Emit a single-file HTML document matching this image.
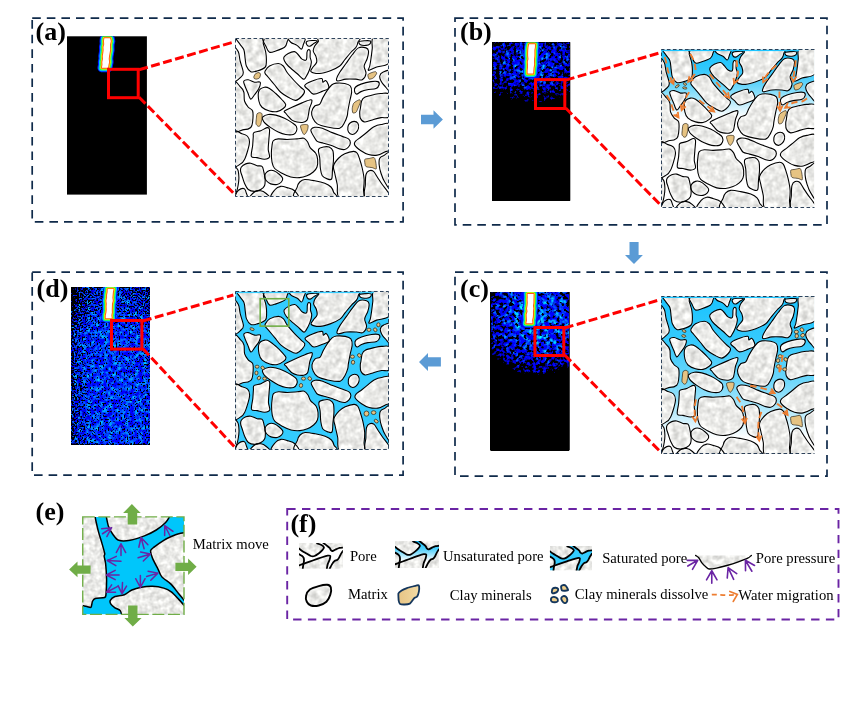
<!DOCTYPE html>
<html lang="en">
<head>
<meta charset="utf-8">
<title>Water migration in pore structure</title>
<style>
html,body{margin:0;padding:0;background:#fff;}
body{width:864px;height:704px;overflow:hidden;font-family:"Liberation Serif",serif;}
svg{display:block;}
</style>
</head>
<body>
<svg width="864" height="704" viewBox="0 0 864 704">
<rect x="0" y="0" width="864" height="704" fill="#fff"/>
<defs>
<filter id="tex" x="-5%" y="-5%" width="110%" height="110%" color-interpolation-filters="sRGB">
  <feTurbulence type="fractalNoise" baseFrequency="0.17" numOctaves="2" seed="4" result="n"/>
  <feColorMatrix in="n" type="matrix" values="0.34 0 0 0 0.745  0.34 0 0 0 0.745  0.34 0 0 0 0.735  0 0 0 0 1" result="g"/>
  <feMorphology in="SourceAlpha" operator="erode" radius="0.5" result="e"/>
  <feGaussianBlur in="e" stdDeviation="0.8" result="eb"/>
  <feComposite in="g" in2="eb" operator="in"/>
</filter>
<filter id="tex0" x="-5%" y="-5%" width="110%" height="110%" color-interpolation-filters="sRGB">
  <feTurbulence type="fractalNoise" baseFrequency="0.2" numOctaves="2" seed="8" result="n"/>
  <feColorMatrix in="n" type="matrix" values="0.34 0 0 0 0.75  0.34 0 0 0 0.75  0.34 0 0 0 0.74  0 0 0 0 1" result="g"/>
  <feComposite in="g" in2="SourceGraphic" operator="in"/>
</filter>
<filter id="heat" x="0" y="0" width="100%" height="100%" color-interpolation-filters="sRGB">
  <feTurbulence type="fractalNoise" baseFrequency="0.3" numOctaves="2" seed="11" result="h"/>
  <feColorMatrix in="h" type="matrix" values="1 0 0 0 0  1 0 0 0 0  1 0 0 0 0  0 0 0 0 1" result="hg"/>
  <feComposite in="hg" in2="SourceGraphic" operator="arithmetic" k1="7.5" k2="0" k3="0" k4="-2.4" result="m"/>
  <feTurbulence type="fractalNoise" baseFrequency="0.2" numOctaves="2" seed="23" result="l"/>
  <feColorMatrix in="l" type="matrix" values="1 0 0 0 0  1 0 0 0 0  1 0 0 0 0  0 0 0 0 1" result="lg"/>
  <feComposite in="lg" in2="SourceGraphic" operator="arithmetic" k1="2.7" k2="0" k3="0" k4="-1.0" result="c0"/>
  <feColorMatrix in="c0" type="matrix" values="0 0 0 0 0  0 1 0 0 0  0 0 0 0 1  0 0 0 0 1" result="c"/>
  <feComponentTransfer in="m" result="m2"><feFuncG type="gamma" amplitude="1" exponent="1.5" offset="0"/><feFuncB type="gamma" amplitude="1" exponent="0.5" offset="0"/></feComponentTransfer>
  <feComposite in="c" in2="m2" operator="arithmetic" k1="1" k2="0" k3="0" k4="0"/>
</filter>
<filter id="heatd" x="0" y="0" width="100%" height="100%" color-interpolation-filters="sRGB">
  <feTurbulence type="fractalNoise" baseFrequency="0.62" numOctaves="1" seed="5" result="h"/>
  <feColorMatrix in="h" type="matrix" values="1 0 0 0 0  1 0 0 0 0  1 0 0 0 0  0 0 0 0 1" result="hg"/>
  <feComposite in="hg" in2="SourceGraphic" operator="arithmetic" k1="12" k2="0" k3="0" k4="-3.9" result="m"/>
  <feTurbulence type="fractalNoise" baseFrequency="0.23" numOctaves="2" seed="9" result="l"/>
  <feColorMatrix in="l" type="matrix" values="0 0 0 0 0  1.8 0 0 0 -0.67  0 0 0 0 1  0 0 0 0 1" result="c"/>
  <feComponentTransfer in="m" result="m2"><feFuncG type="gamma" amplitude="1" exponent="1.8" offset="0"/><feFuncB type="gamma" amplitude="1" exponent="0.6" offset="0"/></feComponentTransfer>
  <feComposite in="c" in2="m2" operator="arithmetic" k1="1" k2="0" k3="0" k4="0"/>
</filter>
<filter id="soft" x="-100%" y="-20%" width="300%" height="140%"><feGaussianBlur stdDeviation="0.35"/></filter>
<radialGradient id="densB" gradientUnits="userSpaceOnUse" cx="0" cy="0" r="1" gradientTransform="translate(533 62) scale(62 40)">
  <stop offset="0" stop-color="#e6e6e6"/><stop offset="0.3" stop-color="#d4d4d4"/><stop offset="0.55" stop-color="#bdbdbd"/><stop offset="0.75" stop-color="#a8a8a8"/><stop offset="0.9" stop-color="#949494"/><stop offset="1" stop-color="#808080"/><stop offset="1" stop-color="#000"/>
</radialGradient>
<radialGradient id="densC" gradientUnits="userSpaceOnUse" cx="0" cy="0" r="1" gradientTransform="translate(538 318) scale(60 57)">
  <stop offset="0" stop-color="#fafafa"/><stop offset="0.4" stop-color="#ebebeb"/><stop offset="0.6" stop-color="#d6d6d6"/><stop offset="0.76" stop-color="#bfbfbf"/><stop offset="0.9" stop-color="#a6a6a6"/><stop offset="1" stop-color="#858585"/><stop offset="1" stop-color="#000"/>
</radialGradient>
<linearGradient id="densDy" x1="0" y1="0" x2="0" y2="1">
  <stop offset="0" stop-color="#000" stop-opacity="0.22"/><stop offset="0.15" stop-color="#000" stop-opacity="0.14"/><stop offset="0.3" stop-color="#000" stop-opacity="0"/><stop offset="1" stop-color="#000" stop-opacity="0"/>
</linearGradient>
<linearGradient id="densD" x1="0" y1="0" x2="1" y2="0">
  <stop offset="0" stop-color="#a0a0a0"/><stop offset="0.08" stop-color="#c8c8c8"/><stop offset="0.3" stop-color="#f0f0f0"/><stop offset="0.6" stop-color="#f8f8f8"/><stop offset="0.92" stop-color="#e8e8e8"/><stop offset="1" stop-color="#d0d0d0"/>
</linearGradient>
<linearGradient id="gradB" x1="0" y1="0" x2="0" y2="1">
  <stop offset="0" stop-color="#18c4ff"/><stop offset="0.12" stop-color="#30c8fc"/><stop offset="0.22" stop-color="#62d4fb"/><stop offset="0.30" stop-color="#9ce4fb"/><stop offset="0.37" stop-color="#d4f2fd"/><stop offset="0.43" stop-color="#ffffff"/>
</linearGradient>
<linearGradient id="gradC" x1="0" y1="0" x2="0" y2="1">
  <stop offset="0" stop-color="#18c4ff"/><stop offset="0.3" stop-color="#38cafc"/><stop offset="0.52" stop-color="#6ad6fb"/><stop offset="0.68" stop-color="#a0e4fb"/><stop offset="0.8" stop-color="#d4f2fd"/><stop offset="0.9" stop-color="#ffffff"/>
</linearGradient>
<linearGradient id="gradU" x1="0" y1="0" x2="0" y2="1">
  <stop offset="0" stop-color="#18c4ff"/><stop offset="0.35" stop-color="#62d4fb"/><stop offset="0.7" stop-color="#ffffff"/>
</linearGradient>
<clipPath id="pclip"><rect x="0" y="0" width="152.90" height="157.40"/></clipPath>

<g id="gfill"><path d="M2.38 -1.50C-1.38 -0.46 3.21 2.67 4.25 4.75C5.29 6.83 7.69 8.50 8.62 11.00C9.56 13.50 9.46 17.04 9.88 19.75C10.29 22.46 10.19 25.06 11.12 27.25C12.06 29.44 13.73 32.04 15.50 32.88C17.27 33.71 19.35 32.98 21.75 32.25C24.15 31.52 28.31 30.17 29.88 28.50C31.44 26.83 31.02 24.75 31.12 22.25C31.23 19.75 31.02 16.42 30.50 13.50C29.98 10.58 28.62 7.25 28.00 4.75C27.38 2.25 31.02 -0.46 26.75 -1.50C22.48 -2.54 6.12 -2.54 2.38 -1.50Z"/><path d="M-2.00 10.38C-1.17 5.69 1.85 10.90 3.00 12.88C4.15 14.85 4.04 18.81 4.88 22.25C5.71 25.69 7.79 30.90 8.00 33.50C8.21 36.10 7.79 36.62 6.12 37.88C4.46 39.12 -0.65 45.58 -2.00 41.00C-3.35 36.42 -2.83 15.06 -2.00 10.38Z"/><path d="M28.62 -1.50C25.29 0.17 30.19 6.00 31.12 8.50C32.06 11.00 32.69 12.88 34.25 13.50C35.81 14.12 38.00 13.08 40.50 12.25C43.00 11.42 47.38 9.96 49.25 8.50C51.12 7.04 51.44 5.17 51.75 3.50C52.06 1.83 54.98 -0.67 51.12 -1.50C47.27 -2.33 31.96 -3.17 28.62 -1.50Z"/><path d="M53.62 -1.50C51.33 -0.67 54.15 2.15 55.50 3.50C56.85 4.85 59.98 5.48 61.75 6.62C63.52 7.77 65.08 10.48 66.12 10.38C67.17 10.27 67.48 7.98 68.00 6.00C68.52 4.02 71.65 -0.25 69.25 -1.50C66.85 -2.75 55.92 -2.33 53.62 -1.50Z"/><path d="M71.38 2.88C72.21 2.12 74.94 1.85 76.75 1.75C78.56 1.65 82.00 1.71 82.25 2.25C82.50 2.79 79.54 4.12 78.25 5.00C76.96 5.88 75.58 7.29 74.50 7.50C73.42 7.71 72.27 7.02 71.75 6.25C71.23 5.48 70.54 3.62 71.38 2.88Z"/><path d="M86.00 -1.50C79.50 -0.77 84.08 1.42 83.00 2.88C81.92 4.33 80.33 5.69 79.50 7.25C78.67 8.81 77.79 10.48 78.00 12.25C78.21 14.02 80.19 16.00 80.75 17.88C81.31 19.75 81.90 21.73 81.38 23.50C80.85 25.27 78.56 26.94 77.62 28.50C76.69 30.06 74.60 31.83 75.75 32.88C76.90 33.92 81.38 34.85 84.50 34.75C87.62 34.65 91.17 33.50 94.50 32.25C97.83 31.00 102.00 29.12 104.50 27.25C107.00 25.38 107.62 23.29 109.50 21.00C111.38 18.71 113.88 15.58 115.75 13.50C117.62 11.42 119.60 10.17 120.75 8.50C121.90 6.83 122.42 5.17 122.62 3.50C122.83 1.83 128.10 -0.67 122.00 -1.50C115.90 -2.33 92.50 -2.23 86.00 -1.50Z"/><path d="M48.62 18.50C49.25 17.25 51.23 15.69 53.00 14.75C54.77 13.81 57.58 12.67 59.25 12.88C60.92 13.08 61.75 14.75 63.00 16.00C64.25 17.25 65.40 19.54 66.75 20.38C68.10 21.21 70.29 22.15 71.12 21.00C71.96 19.85 71.44 15.17 71.75 13.50C72.06 11.83 72.48 11.21 73.00 11.00C73.52 10.79 74.56 11.00 74.88 12.25C75.19 13.50 74.67 16.62 74.88 18.50C75.08 20.38 76.23 21.42 76.12 23.50C76.02 25.58 75.19 28.50 74.25 31.00C73.31 33.50 71.54 36.94 70.50 38.50C69.46 40.06 69.46 41.00 68.00 40.38C66.54 39.75 64.25 36.94 61.75 34.75C59.25 32.56 55.08 29.33 53.00 27.25C50.92 25.17 49.98 23.71 49.25 22.25C48.52 20.79 48.00 19.75 48.62 18.50Z"/><path d="M29.88 32.25C30.60 31.00 32.06 28.50 34.25 27.25C36.44 26.00 40.71 24.75 43.00 24.75C45.29 24.75 46.54 25.79 48.00 27.25C49.46 28.71 49.88 31.00 51.75 33.50C53.62 36.00 56.96 39.75 59.25 42.25C61.54 44.75 63.83 46.83 65.50 48.50C67.17 50.17 69.04 50.79 69.25 52.25C69.46 53.71 68.21 55.69 66.75 57.25C65.29 58.81 62.79 61.42 60.50 61.62C58.21 61.83 55.50 59.85 53.00 58.50C50.50 57.15 47.79 55.58 45.50 53.50C43.21 51.42 41.33 48.50 39.25 46.00C37.17 43.50 34.56 40.38 33.00 38.50C31.44 36.62 30.40 35.79 29.88 34.75C29.35 33.71 29.15 33.50 29.88 32.25Z"/><path d="M8.62 42.25C9.25 41.42 11.23 40.79 13.00 41.00C14.77 41.21 17.27 43.08 19.25 43.50C21.23 43.92 24.15 42.46 24.88 43.50C25.60 44.54 24.56 47.67 23.62 49.75C22.69 51.83 20.60 54.23 19.25 56.00C17.90 57.77 16.65 60.79 15.50 60.38C14.35 59.96 13.42 55.90 12.38 53.50C11.33 51.10 9.88 47.88 9.25 46.00C8.62 44.12 8.00 43.08 8.62 42.25Z"/><path d="M23.62 52.25C24.56 49.96 27.48 48.92 29.25 48.50C31.02 48.08 32.38 48.71 34.25 49.75C36.12 50.79 38.42 52.88 40.50 54.75C42.58 56.62 45.08 59.12 46.75 61.00C48.42 62.88 50.29 64.54 50.50 66.00C50.71 67.46 49.46 68.60 48.00 69.75C46.54 70.90 44.04 72.46 41.75 72.88C39.46 73.29 36.75 72.98 34.25 72.25C31.75 71.52 28.52 70.17 26.75 68.50C24.98 66.83 24.15 64.96 23.62 62.25C23.10 59.54 22.69 54.54 23.62 52.25Z"/><path d="M69.50 46.62C70.12 45.17 74.19 43.40 77.00 42.25C79.81 41.10 84.60 39.54 86.38 39.75C88.15 39.96 86.94 43.17 87.62 43.50C88.31 43.83 89.60 41.38 90.50 41.75C91.40 42.12 92.54 44.42 93.00 45.75C93.46 47.08 94.25 48.60 93.25 49.75C92.25 50.90 89.50 51.69 87.00 52.62C84.50 53.56 80.54 55.65 78.25 55.38C75.96 55.10 74.71 52.46 73.25 51.00C71.79 49.54 68.88 48.08 69.50 46.62Z"/><path d="M49.25 72.25C50.29 71.25 53.83 69.85 56.75 68.50C59.67 67.15 63.62 65.38 66.75 64.12C69.88 62.88 73.88 61.10 75.50 61.00C77.12 60.90 76.71 62.04 76.50 63.50C76.29 64.96 74.83 67.50 74.25 69.75C73.67 72.00 73.42 75.06 73.00 77.00C72.58 78.94 72.58 80.29 71.75 81.38C70.92 82.46 69.67 83.19 68.00 83.50C66.33 83.81 63.62 83.60 61.75 83.25C59.88 82.90 58.21 82.31 56.75 81.38C55.29 80.44 54.04 78.77 53.00 77.62C51.96 76.48 51.12 75.40 50.50 74.50C49.88 73.60 48.21 73.25 49.25 72.25Z"/><path d="M96.38 46.25C97.83 45.04 98.56 44.62 100.75 44.38C102.94 44.12 107.10 44.27 109.50 44.75C111.90 45.23 113.98 45.79 115.12 47.25C116.27 48.71 116.48 51.00 116.38 53.50C116.27 56.00 115.12 59.12 114.50 62.25C113.88 65.38 113.04 69.79 112.62 72.25C112.21 74.71 112.52 75.17 112.00 77.00C111.48 78.83 110.75 81.17 109.50 83.25C108.25 85.33 107.42 88.67 104.50 89.50C101.58 90.33 95.75 88.98 92.00 88.25C88.25 87.52 84.40 86.58 82.00 85.12C79.60 83.67 78.56 81.48 77.62 79.50C76.69 77.52 76.06 75.29 76.38 73.25C76.69 71.21 78.15 68.56 79.50 67.25C80.85 65.94 83.17 66.73 84.50 65.38C85.83 64.02 86.25 61.42 87.50 59.12C88.75 56.83 90.52 53.77 92.00 51.62C93.48 49.48 94.92 47.46 96.38 46.25Z"/><path d="M-2.00 45.38C-0.75 38.58 3.73 47.15 5.50 48.50C7.27 49.85 8.00 51.21 8.62 53.50C9.25 55.79 8.52 59.75 9.25 62.25C9.98 64.75 11.65 66.83 13.00 68.50C14.35 70.17 16.65 69.83 17.38 72.25C18.10 74.67 17.69 80.25 17.38 83.00C17.06 85.75 16.96 87.44 15.50 88.75C14.04 90.06 11.54 90.79 8.62 90.88C5.71 90.96 -0.23 96.83 -2.00 89.25C-3.77 81.67 -3.25 52.17 -2.00 45.38Z"/><path d="M27.38 78.25C28.31 77.42 30.81 76.06 33.00 75.75C35.19 75.44 37.79 75.75 40.50 76.38C43.21 77.00 46.54 78.25 49.25 79.50C51.96 80.75 54.77 82.52 56.75 83.88C58.73 85.23 60.40 86.17 61.12 87.62C61.85 89.08 61.65 91.27 61.12 92.62C60.60 93.98 59.77 95.23 58.00 95.75C56.23 96.27 53.00 96.17 50.50 95.75C48.00 95.33 45.50 94.40 43.00 93.25C40.50 92.10 37.69 90.33 35.50 88.88C33.31 87.42 31.23 85.85 29.88 84.50C28.52 83.15 27.79 81.79 27.38 80.75C26.96 79.71 26.44 79.08 27.38 78.25Z"/><path d="M123.88 2.88C124.60 2.21 127.62 2.10 129.50 2.00C131.38 1.90 134.29 1.69 135.12 2.25C135.96 2.81 135.23 4.65 134.50 5.38C133.77 6.10 132.31 6.52 130.75 6.62C129.19 6.73 126.27 6.62 125.12 6.00C123.98 5.38 123.15 3.54 123.88 2.88Z"/><path d="M138.25 -1.50C135.23 0.38 137.42 6.21 137.00 9.75C136.58 13.29 136.17 16.83 135.75 19.75C135.33 22.67 134.92 25.27 134.50 27.25C134.08 29.23 132.21 31.42 133.25 31.62C134.29 31.83 137.10 29.96 140.75 28.50C144.40 27.04 152.73 27.88 155.12 22.88C157.52 17.88 157.94 2.56 155.12 -1.50C152.31 -5.56 141.27 -3.38 138.25 -1.50Z"/><path d="M123.25 9.12C125.54 7.98 129.08 8.60 130.75 9.12C132.42 9.65 133.04 10.48 133.25 12.25C133.46 14.02 132.73 17.25 132.00 19.75C131.27 22.25 129.08 24.75 128.88 27.25C128.67 29.75 131.06 32.46 130.75 34.75C130.44 37.04 128.67 40.06 127.00 41.00C125.33 41.94 123.46 40.48 120.75 40.38C118.04 40.27 113.77 40.06 110.75 40.38C107.73 40.69 104.19 42.35 102.62 42.25C101.06 42.15 101.06 41.21 101.38 39.75C101.69 38.29 102.94 36.00 104.50 33.50C106.06 31.00 108.67 27.67 110.75 24.75C112.83 21.83 114.92 18.60 117.00 16.00C119.08 13.40 120.96 10.27 123.25 9.12Z"/><path d="M155.12 32.88C153.88 29.85 149.40 32.77 147.62 33.50C145.85 34.23 144.81 35.79 144.50 37.25C144.19 38.71 144.92 40.58 145.75 42.25C146.58 43.92 147.94 45.69 149.50 47.25C151.06 48.81 154.19 54.02 155.12 51.62C156.06 49.23 156.38 35.90 155.12 32.88Z"/><path d="M120.12 48.50C121.21 47.35 123.15 46.31 125.75 45.38C128.35 44.44 132.94 43.29 135.75 42.88C138.56 42.46 141.27 42.35 142.62 42.88C143.98 43.40 144.19 44.85 143.88 46.00C143.56 47.15 142.73 48.92 140.75 49.75C138.77 50.58 134.50 50.48 132.00 51.00C129.50 51.52 127.52 52.15 125.75 52.88C123.98 53.60 122.46 55.48 121.38 55.38C120.29 55.27 119.46 53.40 119.25 52.25C119.04 51.10 119.04 49.65 120.12 48.50Z"/><path d="M155.12 56.62C153.56 52.92 148.56 54.85 145.75 54.75C142.94 54.65 140.96 55.38 138.25 56.00C135.54 56.62 131.48 57.46 129.50 58.50C127.52 59.54 127.10 60.38 126.38 62.25C125.65 64.12 125.44 67.92 125.12 69.75C124.81 71.58 124.50 71.62 124.50 73.25C124.50 74.88 124.29 77.83 125.12 79.50C125.96 81.17 127.31 83.04 129.50 83.25C131.69 83.46 135.54 81.48 138.25 80.75C140.96 80.02 142.94 79.50 145.75 78.88C148.56 78.25 153.56 80.71 155.12 77.00C156.69 73.29 156.69 60.33 155.12 56.62Z"/><path d="M-2.00 94.25C-0.54 89.12 4.38 94.46 6.75 95.00C9.12 95.54 11.00 96.12 12.25 97.50C13.50 98.88 14.23 100.83 14.25 103.25C14.27 105.67 13.21 109.08 12.38 112.00C11.54 114.92 10.40 118.56 9.25 120.75C8.10 122.94 7.38 124.29 5.50 125.12C3.62 125.96 -0.75 130.90 -2.00 125.75C-3.25 120.60 -3.46 99.38 -2.00 94.25Z"/><path d="M18.62 93.88C19.88 92.83 23.31 92.83 25.50 92.00C27.69 91.17 30.29 89.08 31.75 88.88C33.21 88.67 33.94 88.77 34.25 90.75C34.56 92.73 33.83 97.42 33.62 100.75C33.42 104.08 32.90 107.83 33.00 110.75C33.10 113.67 34.88 116.62 34.25 118.25C33.62 119.88 31.33 120.40 29.25 120.50C27.17 120.60 23.94 119.35 21.75 118.88C19.56 118.40 16.85 119.60 16.12 117.62C15.40 115.65 17.06 110.23 17.38 107.00C17.69 103.77 17.79 100.44 18.00 98.25C18.21 96.06 17.38 94.92 18.62 93.88Z"/><path d="M38.00 102.00C39.04 100.85 40.71 100.33 43.00 100.12C45.29 99.92 48.62 100.75 51.75 100.75C54.88 100.75 58.94 100.33 61.75 100.12C64.56 99.92 66.85 98.98 68.62 99.50C70.40 100.02 71.33 101.69 72.38 103.25C73.42 104.81 73.52 107.00 74.88 108.88C76.23 110.75 79.25 112.52 80.50 114.50C81.75 116.48 82.17 118.46 82.38 120.75C82.58 123.04 82.48 126.17 81.75 128.25C81.02 130.33 79.67 131.79 78.00 133.25C76.33 134.71 74.04 136.06 71.75 137.00C69.46 137.94 66.96 138.67 64.25 138.88C61.54 139.08 58.42 138.98 55.50 138.25C52.58 137.52 49.46 135.96 46.75 134.50C44.04 133.04 40.92 131.38 39.25 129.50C37.58 127.62 37.27 125.75 36.75 123.25C36.23 120.75 36.12 117.21 36.12 114.50C36.12 111.79 36.44 109.08 36.75 107.00C37.06 104.92 36.96 103.15 38.00 102.00Z"/><path d="M75.75 90.75C76.27 89.85 77.62 88.71 79.50 88.50C81.38 88.29 84.08 88.60 87.00 89.50C89.92 90.40 93.67 92.52 97.00 93.88C100.33 95.23 104.29 96.58 107.00 97.62C109.71 98.67 111.90 99.08 113.25 100.12C114.60 101.17 115.12 102.52 115.12 103.88C115.12 105.23 114.19 107.10 113.25 108.25C112.31 109.40 110.96 110.44 109.50 110.75C108.04 111.06 106.58 110.75 104.50 110.12C102.42 109.50 99.71 107.94 97.00 107.00C94.29 106.06 90.75 105.23 88.25 104.50C85.75 103.77 83.56 103.67 82.00 102.62C80.44 101.58 79.81 99.71 78.88 98.25C77.94 96.79 76.90 95.12 76.38 93.88C75.85 92.62 75.23 91.65 75.75 90.75Z"/><path d="M83.25 110.75C83.88 108.88 86.48 108.67 88.25 108.25C90.02 107.83 92.31 107.62 93.88 108.25C95.44 108.88 96.90 109.92 97.62 112.00C98.35 114.08 98.31 117.62 98.25 120.75C98.19 123.88 97.56 127.52 97.25 130.75C96.94 133.98 97.25 138.56 96.38 140.12C95.50 141.69 93.56 140.65 92.00 140.12C90.44 139.60 88.15 138.77 87.00 137.00C85.85 135.23 85.54 132.42 85.12 129.50C84.71 126.58 84.81 122.62 84.50 119.50C84.19 116.38 82.62 112.62 83.25 110.75Z"/><path d="M6.12 128.25C7.00 127.10 8.94 125.75 10.50 125.12C12.06 124.50 13.62 124.19 15.50 124.50C17.38 124.81 19.88 126.48 21.75 127.00C23.62 127.52 25.60 126.58 26.75 127.62C27.90 128.67 28.10 131.06 28.62 133.25C29.15 135.44 29.77 138.46 29.88 140.75C29.98 143.04 29.98 145.33 29.25 147.00C28.52 148.67 27.17 149.81 25.50 150.75C23.83 151.69 21.33 152.62 19.25 152.62C17.17 152.62 14.67 152.10 13.00 150.75C11.33 149.40 10.29 146.79 9.25 144.50C8.21 142.21 7.42 139.08 6.75 137.00C6.08 134.92 5.35 133.46 5.25 132.00C5.15 130.54 5.25 129.40 6.12 128.25Z"/><path d="M30.50 134.50C31.29 133.42 32.90 132.17 34.25 131.75C35.60 131.33 36.96 131.33 38.62 132.00C40.29 132.67 42.79 134.50 44.25 135.75C45.71 137.00 47.06 138.25 47.38 139.50C47.69 140.75 47.06 142.21 46.12 143.25C45.19 144.29 43.52 145.44 41.75 145.75C39.98 146.06 37.27 145.75 35.50 145.12C33.73 144.50 32.12 143.15 31.12 142.00C30.12 140.85 29.60 139.50 29.50 138.25C29.40 137.00 29.71 135.58 30.50 134.50Z"/><path d="M-2.00 129.50C-1.27 125.54 1.44 129.29 2.38 130.75C3.31 132.21 3.52 135.75 3.62 138.25C3.73 140.75 3.42 143.25 3.00 145.75C2.58 148.25 1.96 151.79 1.12 153.25C0.29 154.71 -1.48 158.46 -2.00 154.50C-2.52 150.54 -2.73 133.46 -2.00 129.50Z"/><path d="M0.50 159.50C-1.17 158.46 0.92 154.81 1.75 153.25C2.58 151.69 4.25 150.65 5.50 150.12C6.75 149.60 8.31 149.40 9.25 150.12C10.19 150.85 10.71 152.94 11.12 154.50C11.54 156.06 13.52 158.67 11.75 159.50C9.98 160.33 2.17 160.54 0.50 159.50Z"/><path d="M15.50 159.50C13.10 158.46 17.58 154.50 19.25 153.25C20.92 152.00 23.62 151.79 25.50 152.00C27.38 152.21 29.15 153.25 30.50 154.50C31.85 155.75 36.12 158.67 33.62 159.50C31.12 160.33 17.90 160.54 15.50 159.50Z"/><path d="M36.75 159.50C33.10 158.04 38.42 152.73 39.88 150.75C41.33 148.77 43.52 147.94 45.50 147.62C47.48 147.31 49.46 148.15 51.75 148.88C54.04 149.60 57.58 150.23 59.25 152.00C60.92 153.77 65.50 158.25 61.75 159.50C58.00 160.75 40.40 160.96 36.75 159.50Z"/><path d="M60.75 159.50C54.60 157.62 61.38 150.96 62.00 148.25C62.62 145.54 63.25 144.50 64.50 143.25C65.75 142.00 67.00 140.96 69.50 140.75C72.00 140.54 76.17 141.38 79.50 142.00C82.83 142.62 86.79 143.46 89.50 144.50C92.21 145.54 94.29 146.79 95.75 148.25C97.21 149.71 97.73 151.38 98.25 153.25C98.77 155.12 105.12 158.46 98.88 159.50C92.62 160.54 66.90 161.38 60.75 159.50Z"/><path d="M112.62 88.25C112.83 86.79 113.46 85.44 114.50 84.50C115.54 83.56 117.52 82.62 118.88 82.62C120.23 82.62 121.90 83.35 122.62 84.50C123.35 85.65 123.56 87.94 123.25 89.50C122.94 91.06 121.79 92.83 120.75 93.88C119.71 94.92 118.25 95.85 117.00 95.75C115.75 95.65 113.98 94.50 113.25 93.25C112.52 92.00 112.42 89.71 112.62 88.25Z"/><path d="M155.12 86.38C153.56 82.52 148.56 85.44 145.75 85.75C142.94 86.06 140.54 87.00 138.25 88.25C135.96 89.50 134.08 91.58 132.00 93.25C129.92 94.92 127.73 96.69 125.75 98.25C123.77 99.81 121.17 101.27 120.12 102.62C119.08 103.98 118.56 104.81 119.50 106.38C120.44 107.94 123.46 110.44 125.75 112.00C128.04 113.56 130.54 115.02 133.25 115.75C135.96 116.48 139.29 116.79 142.00 116.38C144.71 115.96 147.31 114.50 149.50 113.25C151.69 112.00 154.19 113.35 155.12 108.88C156.06 104.40 156.69 90.23 155.12 86.38Z"/><path d="M98.25 127.00C98.88 124.50 101.38 121.48 103.25 119.50C105.12 117.52 107.00 116.27 109.50 115.12C112.00 113.98 116.17 112.73 118.25 112.62C120.33 112.52 120.96 113.15 122.00 114.50C123.04 115.85 123.67 118.25 124.50 120.75C125.33 123.25 126.27 126.17 127.00 129.50C127.73 132.83 128.67 137.21 128.88 140.75C129.08 144.29 128.56 147.62 128.25 150.75C127.94 153.88 130.96 158.04 127.00 159.50C123.04 160.96 108.67 161.79 104.50 159.50C100.33 157.21 102.83 149.92 102.00 145.75C101.17 141.58 100.12 137.62 99.50 134.50C98.88 131.38 97.62 129.50 98.25 127.00Z"/><path d="M130.75 159.50C126.58 157.21 130.12 149.71 130.12 145.75C130.12 141.79 130.12 138.04 130.75 135.75C131.38 133.46 132.62 132.52 133.88 132.00C135.12 131.48 136.90 131.58 138.25 132.62C139.60 133.67 140.54 136.06 142.00 138.25C143.46 140.44 145.23 143.25 147.00 145.75C148.77 148.25 151.27 150.96 152.62 153.25C153.98 155.54 158.77 158.46 155.12 159.50C151.48 160.54 134.92 161.79 130.75 159.50Z"/><path d="M155.12 115.75C153.98 110.54 150.02 116.38 148.25 117.00C146.48 117.62 145.23 118.04 144.50 119.50C143.77 120.96 143.67 123.25 143.88 125.75C144.08 128.25 144.81 131.58 145.75 134.50C146.69 137.42 147.94 140.96 149.50 143.25C151.06 145.54 154.19 152.83 155.12 148.25C156.06 143.67 156.27 120.96 155.12 115.75Z"/></g>
</defs>
<rect x="32.20" y="18.10" width="370.90" height="203.80" fill="none" stroke="#0f2a4a" stroke-width="1.70" stroke-dasharray="8.6 6" />
<rect x="455.00" y="18.10" width="372.00" height="206.70" fill="none" stroke="#0f2a4a" stroke-width="1.70" stroke-dasharray="8.6 6" />
<rect x="455.00" y="272.10" width="372.00" height="204.00" fill="none" stroke="#0f2a4a" stroke-width="1.70" stroke-dasharray="8.6 6" />
<rect x="32.20" y="272.10" width="370.90" height="203.00" fill="none" stroke="#0f2a4a" stroke-width="1.70" stroke-dasharray="8.6 6" />
<rect x="287.20" y="509.00" width="551.30" height="110.50" fill="none" stroke="#6a24a4" stroke-width="1.90" stroke-dasharray="8.4 6.4" />
<g>
<clipPath id="hca"><rect x="67.00" y="36.30" width="79.90" height="158.30"/></clipPath>
<rect x="67.00" y="36.30" width="79.90" height="158.30" fill="#000"/>
<g clip-path="url(#hca)"><g filter="url(#soft)"><path d="M104.34 38.30L103.97 41.25L104.20 44.20L103.46 47.15L103.65 50.10L103.28 53.05L102.78 56.00L102.97 58.95L102.32 61.90L102.46 64.85L101.91 67.80L108.03 67.80L108.55 64.85L109.13 61.90L108.72 58.95L109.03 56.00L109.61 53.05L110.12 50.10L110.01 47.15L110.07 44.20L110.81 41.25L110.19 38.30Z" fill="none" stroke="#0018ff" stroke-width="9.0" stroke-linejoin="round"/><path d="M104.34 38.30L103.97 41.25L104.20 44.20L103.46 47.15L103.65 50.10L103.28 53.05L102.78 56.00L102.97 58.95L102.32 61.90L102.46 64.85L101.91 67.80L108.03 67.80L108.55 64.85L109.13 61.90L108.72 58.95L109.03 56.00L109.61 53.05L110.12 50.10L110.01 47.15L110.07 44.20L110.81 41.25L110.19 38.30Z" fill="none" stroke="#00c8ff" stroke-width="6.8" stroke-linejoin="round"/><path d="M104.34 38.30L103.97 41.25L104.20 44.20L103.46 47.15L103.65 50.10L103.28 53.05L102.78 56.00L102.97 58.95L102.32 61.90L102.46 64.85L101.91 67.80L108.03 67.80L108.55 64.85L109.13 61.90L108.72 58.95L109.03 56.00L109.61 53.05L110.12 50.10L110.01 47.15L110.07 44.20L110.81 41.25L110.19 38.30Z" fill="none" stroke="#20ff40" stroke-width="5.0" stroke-linejoin="round"/><path d="M104.34 38.30L103.97 41.25L104.20 44.20L103.46 47.15L103.65 50.10L103.28 53.05L102.78 56.00L102.97 58.95L102.32 61.90L102.46 64.85L101.91 67.80L108.03 67.80L108.55 64.85L109.13 61.90L108.72 58.95L109.03 56.00L109.61 53.05L110.12 50.10L110.01 47.15L110.07 44.20L110.81 41.25L110.19 38.30Z" fill="none" stroke="#fff000" stroke-width="3.3" stroke-linejoin="round"/><path d="M104.34 38.30L103.97 41.25L104.20 44.20L103.46 47.15L103.65 50.10L103.28 53.05L102.78 56.00L102.97 58.95L102.32 61.90L102.46 64.85L101.91 67.80L108.03 67.80L108.55 64.85L109.13 61.90L108.72 58.95L109.03 56.00L109.61 53.05L110.12 50.10L110.01 47.15L110.07 44.20L110.81 41.25L110.19 38.30Z" fill="none" stroke="#ff5a10" stroke-width="1.9" stroke-linejoin="round"/><path d="M104.34 38.30L103.97 41.25L104.20 44.20L103.46 47.15L103.65 50.10L103.28 53.05L102.78 56.00L102.97 58.95L102.32 61.90L102.46 64.85L101.91 67.80L108.03 67.80L108.55 64.85L109.13 61.90L108.72 58.95L109.03 56.00L109.61 53.05L110.12 50.10L110.01 47.15L110.07 44.20L110.81 41.25L110.19 38.30Z" fill="#fff"/></g></g>
<rect x="108.50" y="69.30" width="29.70" height="28.40" fill="none" stroke="#ff0000" stroke-width="3"/>
</g>
<g>
<clipPath id="hcb"><rect x="492.30" y="42.20" width="78.00" height="158.50"/></clipPath>
<rect x="492.30" y="42.20" width="78.00" height="158.50" fill="#000"/>
<rect x="492.30" y="42.20" width="78.00" height="158.50" fill="url(#densB)" filter="url(#heat)"/>
<g clip-path="url(#hcb)"><g filter="url(#soft)"><path d="M529.12 44.20L528.49 47.14L528.24 50.08L528.10 53.02L528.15 55.96L528.48 58.90L527.79 61.84L528.03 64.78L527.97 67.72L527.61 70.66L527.64 73.60L533.21 73.60L533.32 70.66L533.58 67.72L534.12 64.78L534.01 61.84L534.03 58.90L534.40 55.96L534.40 53.02L534.38 50.08L534.94 47.14L534.98 44.20Z" fill="none" stroke="#0018ff" stroke-width="9.0" stroke-linejoin="round"/><path d="M529.12 44.20L528.49 47.14L528.24 50.08L528.10 53.02L528.15 55.96L528.48 58.90L527.79 61.84L528.03 64.78L527.97 67.72L527.61 70.66L527.64 73.60L533.21 73.60L533.32 70.66L533.58 67.72L534.12 64.78L534.01 61.84L534.03 58.90L534.40 55.96L534.40 53.02L534.38 50.08L534.94 47.14L534.98 44.20Z" fill="none" stroke="#00c8ff" stroke-width="6.8" stroke-linejoin="round"/><path d="M529.12 44.20L528.49 47.14L528.24 50.08L528.10 53.02L528.15 55.96L528.48 58.90L527.79 61.84L528.03 64.78L527.97 67.72L527.61 70.66L527.64 73.60L533.21 73.60L533.32 70.66L533.58 67.72L534.12 64.78L534.01 61.84L534.03 58.90L534.40 55.96L534.40 53.02L534.38 50.08L534.94 47.14L534.98 44.20Z" fill="none" stroke="#20ff40" stroke-width="5.0" stroke-linejoin="round"/><path d="M529.12 44.20L528.49 47.14L528.24 50.08L528.10 53.02L528.15 55.96L528.48 58.90L527.79 61.84L528.03 64.78L527.97 67.72L527.61 70.66L527.64 73.60L533.21 73.60L533.32 70.66L533.58 67.72L534.12 64.78L534.01 61.84L534.03 58.90L534.40 55.96L534.40 53.02L534.38 50.08L534.94 47.14L534.98 44.20Z" fill="none" stroke="#fff000" stroke-width="3.3" stroke-linejoin="round"/><path d="M529.12 44.20L528.49 47.14L528.24 50.08L528.10 53.02L528.15 55.96L528.48 58.90L527.79 61.84L528.03 64.78L527.97 67.72L527.61 70.66L527.64 73.60L533.21 73.60L533.32 70.66L533.58 67.72L534.12 64.78L534.01 61.84L534.03 58.90L534.40 55.96L534.40 53.02L534.38 50.08L534.94 47.14L534.98 44.20Z" fill="none" stroke="#ff5a10" stroke-width="1.9" stroke-linejoin="round"/><path d="M529.12 44.20L528.49 47.14L528.24 50.08L528.10 53.02L528.15 55.96L528.48 58.90L527.79 61.84L528.03 64.78L527.97 67.72L527.61 70.66L527.64 73.60L533.21 73.60L533.32 70.66L533.58 67.72L534.12 64.78L534.01 61.84L534.03 58.90L534.40 55.96L534.40 53.02L534.38 50.08L534.94 47.14L534.98 44.20Z" fill="#fff"/></g></g>
<rect x="535.50" y="79.60" width="29.30" height="28.90" fill="none" stroke="#ff0000" stroke-width="3"/>
</g>
<g>
<clipPath id="hcc"><rect x="490.40" y="292.00" width="79.00" height="158.60"/></clipPath>
<rect x="490.40" y="292.00" width="79.00" height="158.60" fill="#000"/>
<rect x="490.40" y="292.00" width="79.00" height="158.60" fill="url(#densC)" filter="url(#heat)"/>
<g clip-path="url(#hcc)"><g filter="url(#soft)"><path d="M527.57 294.00L527.75 296.92L527.58 299.84L527.78 302.76L527.53 305.68L527.01 308.60L527.51 311.52L526.62 314.44L526.77 317.36L526.95 320.28L526.29 323.20L532.39 323.20L532.11 320.28L532.79 317.36L533.00 314.44L532.95 311.52L533.34 308.60L532.95 305.68L533.42 302.76L533.44 299.84L533.55 296.92L533.56 294.00Z" fill="none" stroke="#0018ff" stroke-width="9.0" stroke-linejoin="round"/><path d="M527.57 294.00L527.75 296.92L527.58 299.84L527.78 302.76L527.53 305.68L527.01 308.60L527.51 311.52L526.62 314.44L526.77 317.36L526.95 320.28L526.29 323.20L532.39 323.20L532.11 320.28L532.79 317.36L533.00 314.44L532.95 311.52L533.34 308.60L532.95 305.68L533.42 302.76L533.44 299.84L533.55 296.92L533.56 294.00Z" fill="none" stroke="#00c8ff" stroke-width="6.8" stroke-linejoin="round"/><path d="M527.57 294.00L527.75 296.92L527.58 299.84L527.78 302.76L527.53 305.68L527.01 308.60L527.51 311.52L526.62 314.44L526.77 317.36L526.95 320.28L526.29 323.20L532.39 323.20L532.11 320.28L532.79 317.36L533.00 314.44L532.95 311.52L533.34 308.60L532.95 305.68L533.42 302.76L533.44 299.84L533.55 296.92L533.56 294.00Z" fill="none" stroke="#20ff40" stroke-width="5.0" stroke-linejoin="round"/><path d="M527.57 294.00L527.75 296.92L527.58 299.84L527.78 302.76L527.53 305.68L527.01 308.60L527.51 311.52L526.62 314.44L526.77 317.36L526.95 320.28L526.29 323.20L532.39 323.20L532.11 320.28L532.79 317.36L533.00 314.44L532.95 311.52L533.34 308.60L532.95 305.68L533.42 302.76L533.44 299.84L533.55 296.92L533.56 294.00Z" fill="none" stroke="#fff000" stroke-width="3.3" stroke-linejoin="round"/><path d="M527.57 294.00L527.75 296.92L527.58 299.84L527.78 302.76L527.53 305.68L527.01 308.60L527.51 311.52L526.62 314.44L526.77 317.36L526.95 320.28L526.29 323.20L532.39 323.20L532.11 320.28L532.79 317.36L533.00 314.44L532.95 311.52L533.34 308.60L532.95 305.68L533.42 302.76L533.44 299.84L533.55 296.92L533.56 294.00Z" fill="none" stroke="#ff5a10" stroke-width="1.9" stroke-linejoin="round"/><path d="M527.57 294.00L527.75 296.92L527.58 299.84L527.78 302.76L527.53 305.68L527.01 308.60L527.51 311.52L526.62 314.44L526.77 317.36L526.95 320.28L526.29 323.20L532.39 323.20L532.11 320.28L532.79 317.36L533.00 314.44L532.95 311.52L533.34 308.60L532.95 305.68L533.42 302.76L533.44 299.84L533.55 296.92L533.56 294.00Z" fill="#fff"/></g></g>
<rect x="534.90" y="327.50" width="28.90" height="28.00" fill="none" stroke="#ff0000" stroke-width="3"/>
</g>
<g>
<clipPath id="hcd"><rect x="71.00" y="287.10" width="79.00" height="157.60"/></clipPath>
<rect x="71.00" y="287.10" width="79.00" height="157.60" fill="#000"/>
<g filter="url(#heatd)"><rect x="71.00" y="287.10" width="79.00" height="157.60" fill="url(#densD)"/><rect x="71.00" y="287.10" width="79.00" height="157.60" fill="url(#densDy)"/></g>
<g clip-path="url(#hcd)"><g filter="url(#soft)"><path d="M107.71 289.10L107.64 292.01L107.06 294.92L107.07 297.83L106.36 300.74L106.78 303.65L106.57 306.56L106.72 309.47L106.41 312.38L105.77 315.29L105.70 318.20L111.75 318.20L111.33 315.29L111.89 312.38L111.78 309.47L111.90 306.56L112.00 303.65L112.80 300.74L112.39 297.83L112.65 294.92L112.94 292.01L113.53 289.10Z" fill="none" stroke="#0018ff" stroke-width="9.0" stroke-linejoin="round"/><path d="M107.71 289.10L107.64 292.01L107.06 294.92L107.07 297.83L106.36 300.74L106.78 303.65L106.57 306.56L106.72 309.47L106.41 312.38L105.77 315.29L105.70 318.20L111.75 318.20L111.33 315.29L111.89 312.38L111.78 309.47L111.90 306.56L112.00 303.65L112.80 300.74L112.39 297.83L112.65 294.92L112.94 292.01L113.53 289.10Z" fill="none" stroke="#00c8ff" stroke-width="6.8" stroke-linejoin="round"/><path d="M107.71 289.10L107.64 292.01L107.06 294.92L107.07 297.83L106.36 300.74L106.78 303.65L106.57 306.56L106.72 309.47L106.41 312.38L105.77 315.29L105.70 318.20L111.75 318.20L111.33 315.29L111.89 312.38L111.78 309.47L111.90 306.56L112.00 303.65L112.80 300.74L112.39 297.83L112.65 294.92L112.94 292.01L113.53 289.10Z" fill="none" stroke="#20ff40" stroke-width="5.0" stroke-linejoin="round"/><path d="M107.71 289.10L107.64 292.01L107.06 294.92L107.07 297.83L106.36 300.74L106.78 303.65L106.57 306.56L106.72 309.47L106.41 312.38L105.77 315.29L105.70 318.20L111.75 318.20L111.33 315.29L111.89 312.38L111.78 309.47L111.90 306.56L112.00 303.65L112.80 300.74L112.39 297.83L112.65 294.92L112.94 292.01L113.53 289.10Z" fill="none" stroke="#fff000" stroke-width="3.3" stroke-linejoin="round"/><path d="M107.71 289.10L107.64 292.01L107.06 294.92L107.07 297.83L106.36 300.74L106.78 303.65L106.57 306.56L106.72 309.47L106.41 312.38L105.77 315.29L105.70 318.20L111.75 318.20L111.33 315.29L111.89 312.38L111.78 309.47L111.90 306.56L112.00 303.65L112.80 300.74L112.39 297.83L112.65 294.92L112.94 292.01L113.53 289.10Z" fill="none" stroke="#ff5a10" stroke-width="1.9" stroke-linejoin="round"/><path d="M107.71 289.10L107.64 292.01L107.06 294.92L107.07 297.83L106.36 300.74L106.78 303.65L106.57 306.56L106.72 309.47L106.41 312.38L105.77 315.29L105.70 318.20L111.75 318.20L111.33 315.29L111.89 312.38L111.78 309.47L111.90 306.56L112.00 303.65L112.80 300.74L112.39 297.83L112.65 294.92L112.94 292.01L113.53 289.10Z" fill="#fff"/></g></g>
<rect x="111.50" y="320.50" width="30.40" height="28.60" fill="none" stroke="#ff0000" stroke-width="3"/>
</g>
<line x1="139.10" y1="69.80" x2="233.25" y2="42.15" stroke="#ff0000" stroke-width="3" stroke-dasharray="9 3.5"/>
<line x1="139.10" y1="97.20" x2="234.65" y2="194.25" stroke="#ff0000" stroke-width="3" stroke-dasharray="9 3.5"/>
<line x1="565.70" y1="80.10" x2="659.25" y2="53.00" stroke="#ff0000" stroke-width="3" stroke-dasharray="9 3.5"/>
<line x1="565.70" y1="108.00" x2="660.65" y2="205.10" stroke="#ff0000" stroke-width="3" stroke-dasharray="9 3.5"/>
<line x1="564.70" y1="328.00" x2="659.25" y2="299.90" stroke="#ff0000" stroke-width="3" stroke-dasharray="9 3.5"/>
<line x1="564.70" y1="355.00" x2="660.65" y2="452.00" stroke="#ff0000" stroke-width="3" stroke-dasharray="9 3.5"/>
<line x1="142.80" y1="321.00" x2="233.35" y2="295.00" stroke="#ff0000" stroke-width="3" stroke-dasharray="9 3.5"/>
<line x1="142.80" y1="348.60" x2="234.75" y2="447.10" stroke="#ff0000" stroke-width="3" stroke-dasharray="9 3.5"/>
<g transform="translate(235.25 38.75)">
<g clip-path="url(#pclip)">
<rect x="0" y="0" width="152.90" height="157.40" fill="#fff"/>
<use href="#gfill" fill="#fff"/>
<g filter="url(#tex)"><use href="#gfill" fill="#000"/></g>
<use href="#gfill" fill="none" stroke="#000" stroke-width="1.1"/>
<g fill="#e6c383" stroke="#2a2114" stroke-width="0.7">
<path d="M18.62 37.88C18.80 37.29 19.92 35.23 20.50 34.75C21.08 34.27 23.07 33.68 23.62 33.75C24.18 33.82 25.18 34.75 25.25 35.38C25.32 36.00 24.73 38.54 24.25 39.12C23.77 39.71 21.74 40.30 21.12 40.38C20.51 40.45 19.29 40.04 19.00 39.75C18.71 39.46 18.45 38.46 18.62 37.88Z"/>
<path d="M21.75 75.12C22.11 74.47 23.67 73.88 24.25 73.88C24.83 73.88 26.49 74.32 26.75 75.12C27.01 75.93 26.68 79.44 26.50 80.75C26.32 82.06 25.66 85.57 25.25 86.38C24.84 87.18 23.52 87.77 23.00 87.62C22.48 87.48 20.97 86.07 20.75 85.12C20.53 84.18 21.01 80.67 21.12 79.50C21.24 78.33 21.39 75.78 21.75 75.12Z"/>
<path d="M132.62 36.00C132.84 35.27 134.88 34.49 135.75 34.12C136.62 33.76 139.47 32.80 140.12 32.88C140.78 32.95 141.59 34.02 141.38 34.75C141.16 35.48 139.12 38.47 138.25 39.12C137.38 39.78 134.53 40.74 133.88 40.38C133.22 40.01 132.41 36.73 132.62 36.00Z"/>
<path d="M118.25 64.75C118.76 63.88 120.65 62.69 121.38 62.25C122.10 61.81 124.06 60.85 124.50 61.00C124.94 61.15 125.34 62.48 125.12 63.50C124.91 64.52 123.14 68.58 122.62 69.75C122.11 70.92 121.33 72.99 120.75 73.50C120.17 74.01 118.06 74.56 117.62 74.12C117.19 73.69 116.93 70.84 117.00 69.75C117.07 68.66 117.74 65.62 118.25 64.75Z"/>
<path d="M65.25 87.00C65.54 86.20 68.38 85.82 69.25 85.75C70.12 85.68 72.39 85.79 72.75 86.38C73.11 86.96 72.64 89.80 72.38 90.75C72.11 91.70 70.94 93.92 70.50 94.50C70.06 95.08 69.06 95.97 68.62 95.75C68.19 95.53 67.14 93.65 66.75 92.62C66.36 91.60 64.96 87.80 65.25 87.00Z"/>
<path d="M129.50 120.75C129.94 119.90 132.78 119.97 133.88 119.75C134.97 119.53 138.10 118.47 138.88 118.88C139.65 119.28 140.25 121.94 140.50 123.25C140.75 124.56 141.41 129.47 141.00 130.12C140.59 130.78 138.05 129.09 137.00 128.88C135.95 128.66 132.80 128.47 132.00 128.25C131.20 128.03 130.42 127.88 130.12 127.00C129.83 126.12 129.06 121.60 129.50 120.75Z"/>
</g>

</g>
<path d="M0.25 -0.25 H153.25 V157.75 H0.25 Z" fill="none" stroke="#0c2340" stroke-width="0.85" stroke-dasharray="3.6 2.4"/>
</g>
<g transform="translate(661.25 49.60)">
<g clip-path="url(#pclip)">
<rect x="0" y="0" width="152.90" height="157.40" fill="url(#gradB)"/>
<use href="#gfill" fill="#fff"/>
<g filter="url(#tex)"><use href="#gfill" fill="#000"/></g>
<use href="#gfill" fill="none" stroke="#000" stroke-width="1.1"/>
<g fill="#e6c383" stroke="#2a2114" stroke-width="0.7">
<ellipse cx="16.00" cy="36.65" rx="2.30" ry="1.00" transform="rotate(-35 16.00 36.65)"/><ellipse cx="23.75" cy="34.40" rx="1.60" ry="1.20" transform="rotate(40 23.75 34.40)"/><ellipse cx="23.50" cy="38.40" rx="2.20" ry="1.00" transform="rotate(10 23.50 38.40)"/>
<path d="M21.75 75.12C22.11 74.47 23.67 73.88 24.25 73.88C24.83 73.88 26.49 74.32 26.75 75.12C27.01 75.93 26.68 79.44 26.50 80.75C26.32 82.06 25.66 85.57 25.25 86.38C24.84 87.18 23.52 87.77 23.00 87.62C22.48 87.48 20.97 86.07 20.75 85.12C20.53 84.18 21.01 80.67 21.12 79.50C21.24 78.33 21.39 75.78 21.75 75.12Z"/>
<path d="M132.62 36.00C132.84 35.27 134.88 34.49 135.75 34.12C136.62 33.76 139.47 32.80 140.12 32.88C140.78 32.95 141.59 34.02 141.38 34.75C141.16 35.48 139.12 38.47 138.25 39.12C137.38 39.78 134.53 40.74 133.88 40.38C133.22 40.01 132.41 36.73 132.62 36.00Z"/>
<path d="M118.25 64.75C118.76 63.88 120.65 62.69 121.38 62.25C122.10 61.81 124.06 60.85 124.50 61.00C124.94 61.15 125.34 62.48 125.12 63.50C124.91 64.52 123.14 68.58 122.62 69.75C122.11 70.92 121.33 72.99 120.75 73.50C120.17 74.01 118.06 74.56 117.62 74.12C117.19 73.69 116.93 70.84 117.00 69.75C117.07 68.66 117.74 65.62 118.25 64.75Z"/>
<path d="M65.25 87.00C65.54 86.20 68.38 85.82 69.25 85.75C70.12 85.68 72.39 85.79 72.75 86.38C73.11 86.96 72.64 89.80 72.38 90.75C72.11 91.70 70.94 93.92 70.50 94.50C70.06 95.08 69.06 95.97 68.62 95.75C68.19 95.53 67.14 93.65 66.75 92.62C66.36 91.60 64.96 87.80 65.25 87.00Z"/>
<path d="M129.50 120.75C129.94 119.90 132.78 119.97 133.88 119.75C134.97 119.53 138.10 118.47 138.88 118.88C139.65 119.28 140.25 121.94 140.50 123.25C140.75 124.56 141.41 129.47 141.00 130.12C140.59 130.78 138.05 129.09 137.00 128.88C135.95 128.66 132.80 128.47 132.00 128.25C131.20 128.03 130.42 127.88 130.12 127.00C129.83 126.12 129.06 121.60 129.50 120.75Z"/>
</g>
<rect x="0" y="0" width="138" height="1.5" fill="#1cc4ff"/>
<path d="M3.50 7.52C3.81 8.67 4.75 11.80 5.38 14.40C6.00 17.00 6.10 19.82 7.25 23.15C8.40 26.48 11.42 32.52 12.25 34.40" fill="none" stroke="#ed7d31" stroke-width="1.9" stroke-dasharray="6.5 4"/><path d="M7.84 30.95 L12.25 34.40 L12.64 28.81" fill="none" stroke="#ed7d31" stroke-width="1.8" stroke-linejoin="miter"/><path d="M29.12 4.40C29.65 5.44 31.42 8.36 32.25 10.65C33.08 12.94 33.92 15.86 34.12 18.15C34.33 20.44 34.69 22.07 33.50 24.40C32.31 26.73 28.08 30.86 27.00 32.15" fill="none" stroke="#ed7d31" stroke-width="1.9" stroke-dasharray="6.5 4"/><path d="M28.16 26.67 L27.00 32.15 L32.19 30.05" fill="none" stroke="#ed7d31" stroke-width="1.8" stroke-linejoin="miter"/><path d="M75.38 10.65C75.48 11.90 75.79 15.86 76.00 18.15C76.21 20.44 77.15 21.80 76.62 24.40C76.10 27.00 73.50 32.21 72.88 33.77" fill="none" stroke="#ed7d31" stroke-width="1.9" stroke-dasharray="6.5 4"/><path d="M72.27 28.21 L72.88 33.77 L77.15 30.16" fill="none" stroke="#ed7d31" stroke-width="1.8" stroke-linejoin="miter"/><path d="M48.50 24.40C49.33 25.44 51.62 28.36 53.50 30.65C55.38 32.94 57.35 35.23 59.75 38.15C62.15 41.07 66.52 46.48 67.88 48.15" fill="none" stroke="#ed7d31" stroke-width="1.9" stroke-dasharray="6.5 4"/><path d="M62.72 45.97 L67.88 48.15 L66.80 42.65" fill="none" stroke="#ed7d31" stroke-width="1.8" stroke-linejoin="miter"/><path d="M27.88 42.52C27.35 43.46 26.00 45.13 24.75 48.15C23.50 51.17 21.10 58.57 20.38 60.65" fill="none" stroke="#ed7d31" stroke-width="1.9" stroke-dasharray="6.5 4"/><path d="M19.53 55.11 L20.38 60.65 L24.49 56.85" fill="none" stroke="#ed7d31" stroke-width="1.8" stroke-linejoin="miter"/><path d="M5.38 45.65C6.00 46.69 7.98 49.40 9.12 51.90C10.27 54.40 10.90 57.98 12.25 60.65C13.60 63.32 16.42 66.69 17.25 67.90" fill="none" stroke="#ed7d31" stroke-width="1.9" stroke-dasharray="6.5 4"/><path d="M12.28 65.32 L17.25 67.90 L16.61 62.34" fill="none" stroke="#ed7d31" stroke-width="1.8" stroke-linejoin="miter"/><path d="M37.88 50.65C39.02 51.48 42.25 53.77 44.75 55.65C47.25 57.52 51.52 60.86 52.88 61.90" fill="none" stroke="#ed7d31" stroke-width="1.9" stroke-dasharray="6.5 4"/><path d="M47.35 60.97 L52.88 61.90 L50.56 56.80" fill="none" stroke="#ed7d31" stroke-width="1.8" stroke-linejoin="miter"/><path d="M115.12 15.65C114.19 16.48 111.27 18.77 109.50 20.65C107.73 22.52 105.75 24.92 104.50 26.90C103.25 28.88 102.42 31.59 102.00 32.52" fill="none" stroke="#ed7d31" stroke-width="1.9" stroke-dasharray="6.5 4"/><path d="M101.61 26.94 L102.00 32.52 L106.41 29.07" fill="none" stroke="#ed7d31" stroke-width="1.8" stroke-linejoin="miter"/><path d="M134.50 10.65C134.40 11.90 134.19 15.86 133.88 18.15C133.56 20.44 132.94 22.11 132.62 24.40C132.31 26.69 132.10 30.65 132.00 31.90" fill="none" stroke="#ed7d31" stroke-width="1.9" stroke-dasharray="6.5 4"/><path d="M129.79 26.75 L132.00 31.90 L135.03 27.19" fill="none" stroke="#ed7d31" stroke-width="1.8" stroke-linejoin="miter"/><path d="M118.25 41.90C118.25 43.36 118.15 47.42 118.25 50.65C118.35 53.88 118.77 59.50 118.88 61.27" fill="none" stroke="#ed7d31" stroke-width="1.9" stroke-dasharray="6.5 4"/><path d="M115.96 56.49 L118.88 61.27 L121.21 56.18" fill="none" stroke="#ed7d31" stroke-width="1.8" stroke-linejoin="miter"/><path d="M145.75 48.77C144.92 49.30 143.04 51.17 140.75 51.90C138.46 52.63 134.81 52.11 132.00 53.15C129.19 54.19 125.23 57.32 123.88 58.15" fill="none" stroke="#ed7d31" stroke-width="1.9" stroke-dasharray="6.5 4"/><path d="M126.71 53.32 L123.88 58.15 L129.46 57.80" fill="none" stroke="#ed7d31" stroke-width="1.8" stroke-linejoin="miter"/>
</g>
<path d="M153.25 -0.10 H0.25 V157.90 H153.25" fill="none" stroke="#0c2340" stroke-width="0.85" stroke-dasharray="3.6 2.4"/>
</g>
<g transform="translate(661.25 296.50)">
<g clip-path="url(#pclip)">
<rect x="0" y="0" width="152.90" height="157.40" fill="url(#gradC)"/>
<use href="#gfill" fill="#fff"/>
<g filter="url(#tex)"><use href="#gfill" fill="#000"/></g>
<use href="#gfill" fill="none" stroke="#000" stroke-width="1.1"/>
<g fill="#e6c383" stroke="#2a2114" stroke-width="0.7">
<ellipse cx="22.88" cy="34.50" rx="2.00" ry="1.20" transform="rotate(25 22.88 34.50)"/><ellipse cx="22.50" cy="39.50" rx="2.00" ry="1.20" transform="rotate(15 22.50 39.50)"/>
<ellipse cx="135.12" cy="35.38" rx="2.10" ry="1.72" transform="rotate(0 135.12 35.38)"/><ellipse cx="140.75" cy="33.25" rx="2.10" ry="1.72" transform="rotate(47 140.75 33.25)"/><ellipse cx="135.50" cy="39.50" rx="2.10" ry="1.72" transform="rotate(94 135.50 39.50)"/><ellipse cx="141.38" cy="38.75" rx="2.10" ry="1.72" transform="rotate(141 141.38 38.75)"/>
<ellipse cx="118.88" cy="59.75" rx="2.00" ry="1.64" transform="rotate(0 118.88 59.75)"/><ellipse cx="124.50" cy="62.88" rx="2.00" ry="1.64" transform="rotate(47 124.50 62.88)"/><ellipse cx="116.75" cy="64.12" rx="2.00" ry="1.64" transform="rotate(94 116.75 64.12)"/><ellipse cx="117.00" cy="69.75" rx="2.00" ry="1.64" transform="rotate(141 117.00 69.75)"/><ellipse cx="123.50" cy="72.88" rx="2.00" ry="1.64" transform="rotate(8 123.50 72.88)"/>
<path d="M21.75 75.12C22.11 74.47 23.67 73.88 24.25 73.88C24.83 73.88 26.49 74.32 26.75 75.12C27.01 75.93 26.68 79.44 26.50 80.75C26.32 82.06 25.66 85.57 25.25 86.38C24.84 87.18 23.52 87.77 23.00 87.62C22.48 87.48 20.97 86.07 20.75 85.12C20.53 84.18 21.01 80.67 21.12 79.50C21.24 78.33 21.39 75.78 21.75 75.12Z"/>
<path d="M65.25 87.00C65.54 86.20 68.38 85.82 69.25 85.75C70.12 85.68 72.39 85.79 72.75 86.38C73.11 86.96 72.64 89.80 72.38 90.75C72.11 91.70 70.94 93.92 70.50 94.50C70.06 95.08 69.06 95.97 68.62 95.75C68.19 95.53 67.14 93.65 66.75 92.62C66.36 91.60 64.96 87.80 65.25 87.00Z"/>
<path d="M129.50 120.75C129.94 119.90 132.78 119.97 133.88 119.75C134.97 119.53 138.10 118.47 138.88 118.88C139.65 119.28 140.25 121.94 140.50 123.25C140.75 124.56 141.41 129.47 141.00 130.12C140.59 130.78 138.05 129.09 137.00 128.88C135.95 128.66 132.80 128.47 132.00 128.25C131.20 128.03 130.42 127.88 130.12 127.00C129.83 126.12 129.06 121.60 129.50 120.75Z"/>
</g>
<rect x="0" y="0" width="138" height="1.5" fill="#1cc4ff"/>
<path d="M34.75 102.88C34.54 104.02 33.71 107.35 33.50 109.75C33.29 112.15 33.40 114.75 33.50 117.25C33.60 119.75 34.02 123.50 34.12 124.75" fill="none" stroke="#ed7d31" stroke-width="1.9" stroke-dasharray="6.5 4"/><path d="M31.09 120.04 L34.12 124.75 L36.33 119.60" fill="none" stroke="#ed7d31" stroke-width="1.8" stroke-linejoin="miter"/><path d="M75.38 100.38C76.10 101.52 78.60 104.65 79.75 107.25C80.90 109.85 81.58 112.77 82.25 116.00C82.92 119.23 83.50 124.85 83.75 126.62" fill="none" stroke="#ed7d31" stroke-width="1.9" stroke-dasharray="6.5 4"/><path d="M80.46 122.10 L83.75 126.62 L85.66 121.36" fill="none" stroke="#ed7d31" stroke-width="1.8" stroke-linejoin="miter"/><path d="M88.88 89.12C90.44 89.44 95.23 90.27 98.25 91.00C101.27 91.73 104.50 92.56 107.00 93.50C109.50 94.44 112.21 96.10 113.25 96.62" fill="none" stroke="#ed7d31" stroke-width="1.9" stroke-dasharray="6.5 4"/><path d="M107.65 96.77 L113.25 96.62 L110.00 92.06" fill="none" stroke="#ed7d31" stroke-width="1.8" stroke-linejoin="miter"/><path d="M100.12 115.38C99.71 116.73 98.15 120.69 97.62 123.50C97.10 126.31 96.94 128.81 97.00 132.25C97.06 135.69 97.83 142.15 98.00 144.12" fill="none" stroke="#ed7d31" stroke-width="1.9" stroke-dasharray="6.5 4"/><path d="M94.97 139.42 L98.00 144.12 L100.20 138.98" fill="none" stroke="#ed7d31" stroke-width="1.8" stroke-linejoin="miter"/><path d="M115.75 107.25C116.58 107.88 118.98 109.12 120.75 111.00C122.52 112.88 125.44 117.25 126.38 118.50" fill="none" stroke="#ed7d31" stroke-width="1.9" stroke-dasharray="6.5 4"/><path d="M121.31 116.12 L126.38 118.50 L125.51 112.97" fill="none" stroke="#ed7d31" stroke-width="1.8" stroke-linejoin="miter"/><path d="M121.50 58.50C121.29 59.75 120.83 63.08 120.25 66.00C119.67 68.92 118.38 74.33 118.00 76.00" fill="none" stroke="#ed7d31" stroke-width="1.9" stroke-dasharray="7 3.5"/><path d="M116.52 70.60 L118.00 76.00 L121.65 71.75 Z" fill="#ed7d31"/>
</g>
<path d="M153.25 0.00 H0.25 V157.00 H153.25" fill="none" stroke="#0c2340" stroke-width="0.85" stroke-dasharray="3.6 2.4"/>
</g>
<g transform="translate(235.35 291.60) scale(1.0035 1.001)">
<g clip-path="url(#pclip)">
<rect x="0" y="0" width="152.90" height="157.40" fill="#33ccff"/>
<use href="#gfill" fill="#fff"/>
<g filter="url(#tex)"><use href="#gfill" fill="#000"/></g>
<use href="#gfill" fill="none" stroke="#000" stroke-width="1.1"/>
<g fill="#e6c383" stroke="#2a2114" stroke-width="0.7">
<ellipse cx="16.65" cy="37.52" rx="2.20" ry="1.20" transform="rotate(20 16.65 37.52)"/>
<ellipse cx="21.65" cy="75.02" rx="1.90" ry="1.56" transform="rotate(0 21.65 75.02)"/><ellipse cx="27.28" cy="76.27" rx="1.90" ry="1.56" transform="rotate(47 27.28 76.27)"/><ellipse cx="21.03" cy="81.27" rx="1.90" ry="1.56" transform="rotate(94 21.03 81.27)"/><ellipse cx="23.53" cy="86.27" rx="1.90" ry="1.56" transform="rotate(141 23.53 86.27)"/><ellipse cx="29.15" cy="86.90" rx="1.90" ry="1.56" transform="rotate(8 29.15 86.90)"/>
<ellipse cx="133.15" cy="38.15" rx="2.00" ry="1.64" transform="rotate(0 133.15 38.15)"/><ellipse cx="139.40" cy="38.15" rx="2.00" ry="1.64" transform="rotate(47 139.40 38.15)"/><ellipse cx="142.53" cy="33.15" rx="2.00" ry="1.64" transform="rotate(94 142.53 33.15)"/>
<ellipse cx="116.65" cy="65.02" rx="2.00" ry="1.64" transform="rotate(0 116.65 65.02)"/><ellipse cx="123.53" cy="63.77" rx="2.00" ry="1.64" transform="rotate(47 123.53 63.77)"/><ellipse cx="117.28" cy="70.65" rx="2.00" ry="1.64" transform="rotate(94 117.28 70.65)"/>
<ellipse cx="67.90" cy="86.90" rx="2.00" ry="1.64" transform="rotate(0 67.90 86.90)"/><ellipse cx="74.15" cy="86.90" rx="2.00" ry="1.64" transform="rotate(47 74.15 86.90)"/><ellipse cx="65.40" cy="93.77" rx="2.00" ry="1.64" transform="rotate(94 65.40 93.77)"/>
<ellipse cx="130.65" cy="121.90" rx="2.40" ry="2.60" transform="rotate(0 130.65 121.90)"/><ellipse cx="137.78" cy="120.90" rx="2.30" ry="1.90" transform="rotate(0 137.78 120.90)"/><ellipse cx="140.40" cy="129.40" rx="2.20" ry="1.50" transform="rotate(40 140.40 129.40)"/>
</g>
<rect x="0" y="0" width="138" height="1.5" fill="#33ccff"/>
<rect x="24.75" y="7.10" width="28.50" height="27.40" fill="none" stroke="#70ad47" stroke-width="1.6"/>
</g>
<path d="M0.15 -0.10 H152.62 V157.74 H0.15 Z" fill="none" stroke="#0c2340" stroke-width="0.85" stroke-dasharray="3.6 2.4"/>
</g>
<path d="M421 114.7H433.5V110.3L442.9 119.5L433.5 128.8V124.2H421Z" fill="#5b9bd5"/>
<path d="M629.5 242H638.6V255.1H642.9L634 264L625 255.1H629.5Z" fill="#5b9bd5"/>
<path d="M440.9 357.3H428V353L419 362L428 371V366.6H440.9Z" fill="#5b9bd5"/>
<clipPath id="eclip"><rect x="82.75" y="516.90" width="101.25" height="97.50"/></clipPath>
<g clip-path="url(#eclip)">
<rect x="82.75" y="516.90" width="101.25" height="97.50" fill="#00c6fb"/>
<g fill="#fff"><path d="M94.38 513.13C94.63 514.38 95.70 520.00 96.25 522.50C96.80 525.00 97.75 529.13 98.50 531.88C99.25 534.63 101.05 540.25 101.88 543.13C102.70 546.00 104.39 551.69 104.69 553.44C104.99 555.19 104.00 554.88 104.13 556.25C104.25 557.63 105.30 560.75 105.63 563.75C105.95 566.75 106.51 574.75 106.56 578.75C106.61 582.75 106.25 591.25 106.00 593.75C105.75 596.25 106.11 596.88 104.69 597.50C103.26 598.13 96.94 597.94 95.31 598.44C93.69 598.94 93.08 600.08 92.50 601.25C91.93 602.43 91.75 606.55 91.00 607.25C90.25 607.95 88.43 606.80 86.88 606.50C85.33 606.20 80.38 605.20 79.38 605.00L79.38 605.00L79.38 513.13Z"/><path d="M105.63 513.13C106.00 514.88 107.44 523.38 108.44 526.25C109.44 529.13 111.75 532.81 113.13 534.69C114.50 536.56 116.50 539.56 118.75 540.31C121.00 541.06 126.50 540.94 130.00 540.31C133.50 539.69 141.50 537.00 145.00 535.63C148.50 534.25 153.50 531.75 156.25 530.00C159.00 528.25 163.88 524.25 165.63 522.50C167.38 520.75 168.63 518.13 169.38 516.88C170.13 515.63 171.00 513.63 171.25 513.13Z"/><path d="M188.13 532.25C186.88 532.45 181.00 533.18 178.75 533.75C176.50 534.33 173.25 535.69 171.25 536.56C169.25 537.44 166.00 538.94 163.75 540.31C161.50 541.69 156.13 545.50 154.38 546.88C152.63 548.25 150.88 549.13 150.63 550.63C150.38 552.13 151.50 555.63 152.50 558.13C153.50 560.63 156.88 566.88 158.13 569.38C159.38 571.88 160.13 574.88 161.88 576.88C163.63 578.88 169.00 582.13 171.25 584.38C173.50 586.63 176.50 591.00 178.75 593.75C181.00 596.50 186.88 603.50 188.13 605.00L188.13 605.00L188.13 532.25Z"/><path d="M122.50 618.13C122.20 617.13 121.25 612.00 120.25 610.63C119.25 609.25 116.25 608.69 115.00 607.81C113.75 606.94 111.50 605.06 110.88 604.06C110.25 603.06 109.76 601.31 110.31 600.31C110.86 599.31 113.13 597.31 115.00 596.56C116.88 595.81 122.13 595.56 124.38 594.69C126.63 593.81 129.63 591.00 131.88 590.00C134.13 589.00 138.50 587.69 141.25 587.19C144.00 586.69 149.50 586.13 152.50 586.25C155.50 586.38 161.25 587.38 163.75 588.13C166.25 588.88 169.25 590.38 171.25 591.88C173.25 593.38 176.50 597.00 178.75 599.38C181.00 601.75 186.88 608.31 188.13 609.69L188.13 618.13Z"/></g>
<g filter="url(#tex0)" fill="#000"><path d="M94.38 513.13C94.63 514.38 95.70 520.00 96.25 522.50C96.80 525.00 97.75 529.13 98.50 531.88C99.25 534.63 101.05 540.25 101.88 543.13C102.70 546.00 104.39 551.69 104.69 553.44C104.99 555.19 104.00 554.88 104.13 556.25C104.25 557.63 105.30 560.75 105.63 563.75C105.95 566.75 106.51 574.75 106.56 578.75C106.61 582.75 106.25 591.25 106.00 593.75C105.75 596.25 106.11 596.88 104.69 597.50C103.26 598.13 96.94 597.94 95.31 598.44C93.69 598.94 93.08 600.08 92.50 601.25C91.93 602.43 91.75 606.55 91.00 607.25C90.25 607.95 88.43 606.80 86.88 606.50C85.33 606.20 80.38 605.20 79.38 605.00L79.38 605.00L79.38 513.13Z"/><path d="M105.63 513.13C106.00 514.88 107.44 523.38 108.44 526.25C109.44 529.13 111.75 532.81 113.13 534.69C114.50 536.56 116.50 539.56 118.75 540.31C121.00 541.06 126.50 540.94 130.00 540.31C133.50 539.69 141.50 537.00 145.00 535.63C148.50 534.25 153.50 531.75 156.25 530.00C159.00 528.25 163.88 524.25 165.63 522.50C167.38 520.75 168.63 518.13 169.38 516.88C170.13 515.63 171.00 513.63 171.25 513.13Z"/><path d="M188.13 532.25C186.88 532.45 181.00 533.18 178.75 533.75C176.50 534.33 173.25 535.69 171.25 536.56C169.25 537.44 166.00 538.94 163.75 540.31C161.50 541.69 156.13 545.50 154.38 546.88C152.63 548.25 150.88 549.13 150.63 550.63C150.38 552.13 151.50 555.63 152.50 558.13C153.50 560.63 156.88 566.88 158.13 569.38C159.38 571.88 160.13 574.88 161.88 576.88C163.63 578.88 169.00 582.13 171.25 584.38C173.50 586.63 176.50 591.00 178.75 593.75C181.00 596.50 186.88 603.50 188.13 605.00L188.13 605.00L188.13 532.25Z"/><path d="M122.50 618.13C122.20 617.13 121.25 612.00 120.25 610.63C119.25 609.25 116.25 608.69 115.00 607.81C113.75 606.94 111.50 605.06 110.88 604.06C110.25 603.06 109.76 601.31 110.31 600.31C110.86 599.31 113.13 597.31 115.00 596.56C116.88 595.81 122.13 595.56 124.38 594.69C126.63 593.81 129.63 591.00 131.88 590.00C134.13 589.00 138.50 587.69 141.25 587.19C144.00 586.69 149.50 586.13 152.50 586.25C155.50 586.38 161.25 587.38 163.75 588.13C166.25 588.88 169.25 590.38 171.25 591.88C173.25 593.38 176.50 597.00 178.75 599.38C181.00 601.75 186.88 608.31 188.13 609.69L188.13 618.13Z"/></g>
<g fill="none" stroke="#000" stroke-width="1.5" stroke-linejoin="round"><path d="M94.38 513.13C94.63 514.38 95.70 520.00 96.25 522.50C96.80 525.00 97.75 529.13 98.50 531.88C99.25 534.63 101.05 540.25 101.88 543.13C102.70 546.00 104.39 551.69 104.69 553.44C104.99 555.19 104.00 554.88 104.13 556.25C104.25 557.63 105.30 560.75 105.63 563.75C105.95 566.75 106.51 574.75 106.56 578.75C106.61 582.75 106.25 591.25 106.00 593.75C105.75 596.25 106.11 596.88 104.69 597.50C103.26 598.13 96.94 597.94 95.31 598.44C93.69 598.94 93.08 600.08 92.50 601.25C91.93 602.43 91.75 606.55 91.00 607.25C90.25 607.95 88.43 606.80 86.88 606.50C85.33 606.20 80.38 605.20 79.38 605.00"/><path d="M105.63 513.13C106.00 514.88 107.44 523.38 108.44 526.25C109.44 529.13 111.75 532.81 113.13 534.69C114.50 536.56 116.50 539.56 118.75 540.31C121.00 541.06 126.50 540.94 130.00 540.31C133.50 539.69 141.50 537.00 145.00 535.63C148.50 534.25 153.50 531.75 156.25 530.00C159.00 528.25 163.88 524.25 165.63 522.50C167.38 520.75 168.63 518.13 169.38 516.88C170.13 515.63 171.00 513.63 171.25 513.13"/><path d="M188.13 532.25C186.88 532.45 181.00 533.18 178.75 533.75C176.50 534.33 173.25 535.69 171.25 536.56C169.25 537.44 166.00 538.94 163.75 540.31C161.50 541.69 156.13 545.50 154.38 546.88C152.63 548.25 150.88 549.13 150.63 550.63C150.38 552.13 151.50 555.63 152.50 558.13C153.50 560.63 156.88 566.88 158.13 569.38C159.38 571.88 160.13 574.88 161.88 576.88C163.63 578.88 169.00 582.13 171.25 584.38C173.50 586.63 176.50 591.00 178.75 593.75C181.00 596.50 186.88 603.50 188.13 605.00"/><path d="M122.50 618.13C122.20 617.13 121.25 612.00 120.25 610.63C119.25 609.25 116.25 608.69 115.00 607.81C113.75 606.94 111.50 605.06 110.88 604.06C110.25 603.06 109.76 601.31 110.31 600.31C110.86 599.31 113.13 597.31 115.00 596.56C116.88 595.81 122.13 595.56 124.38 594.69C126.63 593.81 129.63 591.00 131.88 590.00C134.13 589.00 138.50 587.69 141.25 587.19C144.00 586.69 149.50 586.13 152.50 586.25C155.50 586.38 161.25 587.38 163.75 588.13C166.25 588.88 169.25 590.38 171.25 591.88C173.25 593.38 176.50 597.00 178.75 599.38C181.00 601.75 186.88 608.31 188.13 609.69"/></g>
</g>
<path d="M102.50 533.75 L111.62 527.75M101.67 528.68 L111.62 527.75M106.83 536.52 L111.62 527.75" fill="none" stroke="#6a24a4" stroke-width="1.50" stroke-linecap="round"/>
<path d="M121.00 555.62 L121.00 543.75M116.31 552.58 L121.00 543.75M125.69 552.58 L121.00 543.75" fill="none" stroke="#6a24a4" stroke-width="1.50" stroke-linecap="round"/>
<path d="M144.12 548.75 L141.00 537.50M138.84 547.26 L141.00 537.50M147.89 544.75 L141.00 537.50" fill="none" stroke="#6a24a4" stroke-width="1.50" stroke-linecap="round"/>
<path d="M169.75 535.25 L164.75 525.62M164.65 535.62 L164.75 525.62M172.99 531.30 L164.75 525.62" fill="none" stroke="#6a24a4" stroke-width="1.50" stroke-linecap="round"/>
<path d="M138.12 557.75 L150.38 554.00M140.56 552.10 L150.38 554.00M143.31 561.07 L150.38 554.00" fill="none" stroke="#6a24a4" stroke-width="1.50" stroke-linecap="round"/>
<path d="M146.62 576.50 L157.88 573.12M148.07 571.17 L157.88 573.12M150.77 580.16 L157.88 573.12" fill="none" stroke="#6a24a4" stroke-width="1.50" stroke-linecap="round"/>
<path d="M121.00 561.25 L107.25 560.62M115.86 565.72 L107.25 560.62M116.28 556.34 L107.25 560.62" fill="none" stroke="#6a24a4" stroke-width="1.50" stroke-linecap="round"/>
<path d="M119.12 575.00 L106.38 575.00M115.20 579.69 L106.38 575.00M115.20 570.31 L106.38 575.00" fill="none" stroke="#6a24a4" stroke-width="1.50" stroke-linecap="round"/>
<path d="M140.38 575.62 L140.38 587.50M145.07 578.67 L140.38 587.50M135.68 578.67 L140.38 587.50" fill="none" stroke="#6a24a4" stroke-width="1.50" stroke-linecap="round"/>
<path d="M117.25 586.63 L106.56 592.25M115.56 592.29 L106.56 592.25M111.63 584.81 L106.56 592.25" fill="none" stroke="#6a24a4" stroke-width="1.50" stroke-linecap="round"/>
<path d="M122.50 582.50 L121.94 593.75M126.55 586.02 L121.94 593.75M118.11 585.60 L121.94 593.75" fill="none" stroke="#6a24a4" stroke-width="1.50" stroke-linecap="round"/>
<rect x="82.75" y="516.90" width="101.25" height="97.50" fill="none" stroke="#70ad47" stroke-width="1.4" stroke-dasharray="12 3.6"/>
<g fill="#70ad47">
<path d="M131.9 504.1L140.7 513.1H137.2V524.4H127.7V513.1H123.1Z"/>
<path d="M132.8 626.6L141.6 618.1H137.5V605.4H128.1V618.1H124.4Z"/>
<path d="M69.1 569.4L77.5 561.5V565.6H90.6V573.7H77.5V577.3Z"/>
<path d="M196.6 566.7L188.1 558.5V562.8H175.4V570.9H188.1V575Z"/>
</g>
<linearGradient id="gradU1" gradientUnits="userSpaceOnUse" x1="0" y1="541" x2="0" y2="568"><stop offset="0" stop-color="#10c0ff"/><stop offset="0.3" stop-color="#50d0fb"/><stop offset="0.62" stop-color="#d0f2fd"/><stop offset="0.75" stop-color="#ffffff"/></linearGradient>
<clipPath id="ic1"><rect x="299.00" y="543.00" width="43.90" height="25.80"/></clipPath>
<g clip-path="url(#ic1)">
<rect x="299.00" y="543.00" width="43.90" height="25.80" fill="#000" filter="url(#tex0)"/>
<path d="M299.00 548.50L302.12 551.00L306.49 553.49L310.86 555.99L314.61 555.99L318.98 553.18L322.11 550.37L323.98 547.56L321.48 545.06L317.11 543.50L317.11 543.00L323.35 543.00L326.48 545.37L329.60 547.87L330.85 550.06L332.72 551.00L336.47 549.12L339.59 547.87L342.90 547.56L342.90 551.00L342.90 551.00L340.84 554.12L338.97 557.87L337.09 560.05L334.59 560.99L332.10 564.11L329.60 568.80L326.79 568.80L327.73 564.11L329.60 559.74L330.22 555.99L327.73 555.68L322.11 557.24L315.86 559.43L309.62 561.62L303.37 563.80L303.37 563.80L304.00 560.99L303.68 557.87L302.12 555.99L299.00 554.12 Z" fill="#fff"/>
<g fill="none" stroke="#000" stroke-width="1.8" stroke-linecap="round" stroke-linejoin="round">
<path d="M299.00 548.50C299.42 548.83 301.12 550.33 302.12 551.00C303.12 551.66 305.33 552.83 306.49 553.49C307.66 554.16 309.78 555.66 310.86 555.99C311.95 556.33 313.53 556.37 314.61 555.99C315.69 555.62 317.98 553.93 318.98 553.18C319.98 552.43 321.44 551.12 322.11 550.37C322.77 549.62 324.06 548.27 323.98 547.56C323.90 546.85 322.40 545.60 321.48 545.06C320.56 544.52 317.69 543.71 317.11 543.50"/>
<path d="M323.35 543.00C323.77 543.32 325.64 544.72 326.48 545.37C327.31 546.02 329.02 547.25 329.60 547.87C330.18 548.50 330.43 549.64 330.85 550.06C331.26 550.48 331.97 551.12 332.72 551.00C333.47 550.87 335.55 549.54 336.47 549.12C337.38 548.71 338.73 548.08 339.59 547.87C340.45 547.66 342.46 547.60 342.90 547.56"/>
<path d="M299.00 565.36C299.58 565.16 301.96 564.30 303.37 563.80C304.79 563.30 307.95 562.20 309.62 561.62C311.28 561.03 314.20 560.01 315.86 559.43C317.53 558.85 320.52 557.74 322.11 557.24C323.69 556.74 326.64 555.85 327.73 555.68C328.81 555.51 329.97 555.45 330.22 555.99C330.47 556.54 329.93 558.66 329.60 559.74C329.27 560.82 328.10 562.91 327.73 564.11C327.35 565.32 326.91 568.18 326.79 568.80"/>
<path d="M299.00 554.12C299.42 554.37 301.50 555.49 302.12 555.99C302.75 556.49 303.43 557.20 303.68 557.87C303.93 558.53 304.04 560.16 304.00 560.99C303.95 561.82 303.54 563.07 303.37 564.11C303.20 565.16 302.83 568.18 302.75 568.80"/>
<path d="M329.60 568.80C329.93 568.18 331.43 565.16 332.10 564.11C332.76 563.07 333.93 561.53 334.59 560.99C335.26 560.45 336.51 560.47 337.09 560.05C337.68 559.64 338.47 558.66 338.97 557.87C339.47 557.08 340.31 555.04 340.84 554.12C341.36 553.20 342.63 551.41 342.90 551.00"/>
</g></g>
<clipPath id="ic2"><rect x="395.00" y="541.00" width="43.90" height="26.90"/></clipPath>
<g clip-path="url(#ic2)">
<rect x="395.00" y="541.00" width="43.90" height="26.90" fill="#000" filter="url(#tex0)"/>
<path d="M395.00 546.73L398.12 549.34L402.49 551.94L406.86 554.55L410.61 554.55L414.98 551.62L418.11 548.69L419.98 545.75L417.48 543.15L413.11 541.52L413.11 541.00L419.35 541.00L422.48 543.48L425.60 546.08L426.85 548.36L428.72 549.34L432.47 547.38L435.59 546.08L438.90 545.75L438.90 549.34L438.90 549.34L436.84 552.59L434.97 556.50L433.09 558.78L430.59 559.76L428.10 563.02L425.60 567.90L422.79 567.90L423.73 563.02L425.60 558.46L426.22 554.55L423.73 554.22L418.11 555.85L411.86 558.13L405.62 560.41L399.37 562.69L399.37 562.69L400.00 559.76L399.68 556.50L398.12 554.55L395.00 552.59 Z" fill="url(#gradU1)"/>
<g fill="none" stroke="#000" stroke-width="1.8" stroke-linecap="round" stroke-linejoin="round">
<path d="M395.00 546.73C395.42 547.08 397.12 548.64 398.12 549.34C399.12 550.03 401.33 551.25 402.49 551.94C403.66 552.64 405.78 554.20 406.86 554.55C407.95 554.90 409.53 554.94 410.61 554.55C411.69 554.16 413.98 552.40 414.98 551.62C415.98 550.84 417.44 549.47 418.11 548.69C418.77 547.90 420.06 546.49 419.98 545.75C419.90 545.02 418.40 543.71 417.48 543.15C416.56 542.58 413.69 541.74 413.11 541.52"/>
<path d="M419.35 541.00C419.77 541.33 421.64 542.80 422.48 543.48C423.31 544.15 425.02 545.43 425.60 546.08C426.18 546.73 426.43 547.93 426.85 548.36C427.26 548.79 427.97 549.47 428.72 549.34C429.47 549.21 431.55 547.82 432.47 547.38C433.38 546.95 434.73 546.30 435.59 546.08C436.45 545.86 438.46 545.80 438.90 545.75"/>
<path d="M395.00 564.32C395.58 564.10 397.96 563.21 399.37 562.69C400.79 562.17 403.95 561.02 405.62 560.41C407.28 559.80 410.20 558.74 411.86 558.13C413.53 557.52 416.52 556.37 418.11 555.85C419.69 555.33 422.64 554.40 423.73 554.22C424.81 554.05 425.97 553.98 426.22 554.55C426.47 555.11 425.93 557.33 425.60 558.46C425.27 559.58 424.10 561.76 423.73 563.02C423.35 564.27 422.91 567.25 422.79 567.90"/>
<path d="M395.00 552.59C395.42 552.85 397.50 554.03 398.12 554.55C398.75 555.07 399.43 555.81 399.68 556.50C399.93 557.20 400.04 558.89 400.00 559.76C399.95 560.63 399.54 561.93 399.37 563.02C399.20 564.10 398.83 567.25 398.75 567.90"/>
<path d="M425.60 567.90C425.93 567.25 427.43 564.10 428.10 563.02C428.76 561.93 429.93 560.32 430.59 559.76C431.26 559.19 432.51 559.22 433.09 558.78C433.68 558.35 434.47 557.33 434.97 556.50C435.47 555.68 436.31 553.55 436.84 552.59C437.36 551.64 438.63 549.77 438.90 549.34"/>
</g></g>
<clipPath id="ic3"><rect x="549.90" y="546.00" width="42.10" height="24.50"/></clipPath>
<g clip-path="url(#ic3)">
<rect x="549.90" y="546.00" width="42.10" height="24.50" fill="#000" filter="url(#tex0)"/>
<path d="M549.90 551.22L552.89 553.59L557.09 555.97L561.28 558.34L564.87 558.34L569.06 555.67L572.06 553.00L573.85 550.33L571.46 547.96L567.27 546.47L567.27 546.00L573.26 546.00L576.25 548.25L579.24 550.63L580.44 552.70L582.24 553.59L585.83 551.81L588.83 550.63L592.00 550.33L592.00 553.59L592.00 553.59L590.02 556.56L588.23 560.12L586.43 562.19L584.04 563.08L581.64 566.05L579.24 570.50L576.55 570.50L577.45 566.05L579.24 561.90L579.84 558.34L577.45 558.04L572.06 559.53L566.07 561.60L560.08 563.68L554.09 565.75L554.09 565.75L554.69 563.08L554.39 560.12L552.89 558.34L549.90 556.56 Z" fill="#33ccff"/>
<path d="M549.90 567.24L554.09 565.75L553.49 570.50L549.90 570.50 Z" fill="#33ccff"/>
<g fill="none" stroke="#000" stroke-width="1.8" stroke-linecap="round" stroke-linejoin="round">
<path d="M549.90 551.22C550.30 551.54 551.94 552.96 552.89 553.59C553.85 554.23 555.97 555.33 557.09 555.97C558.20 556.60 560.24 558.02 561.28 558.34C562.32 558.66 563.83 558.69 564.87 558.34C565.91 557.98 568.11 556.38 569.06 555.67C570.02 554.96 571.42 553.71 572.06 553.00C572.70 552.29 573.93 551.00 573.85 550.33C573.77 549.66 572.34 548.47 571.46 547.96C570.58 547.44 567.83 546.67 567.27 546.47"/>
<path d="M573.26 546.00C573.65 546.30 575.45 547.64 576.25 548.25C577.05 548.87 578.69 550.03 579.24 550.63C579.80 551.22 580.04 552.31 580.44 552.70C580.84 553.10 581.52 553.71 582.24 553.59C582.96 553.47 584.95 552.21 585.83 551.81C586.71 551.42 588.00 550.82 588.83 550.63C589.65 550.43 591.58 550.37 592.00 550.33"/>
<path d="M549.90 567.24C550.46 567.04 552.73 566.23 554.09 565.75C555.45 565.28 558.48 564.23 560.08 563.68C561.68 563.12 564.47 562.16 566.07 561.60C567.67 561.05 570.54 560.00 572.06 559.53C573.58 559.05 576.41 558.20 577.45 558.04C578.49 557.88 579.60 557.82 579.84 558.34C580.08 558.85 579.56 560.87 579.24 561.90C578.92 562.93 577.81 564.90 577.45 566.05C577.09 567.20 576.67 569.91 576.55 570.50"/>
<path d="M549.90 556.56C550.30 556.80 552.30 557.86 552.89 558.34C553.49 558.81 554.15 559.49 554.39 560.12C554.63 560.75 554.73 562.29 554.69 563.08C554.65 563.88 554.25 565.06 554.09 566.05C553.93 567.04 553.57 569.91 553.49 570.50"/>
<path d="M579.24 570.50C579.56 569.91 581.00 567.04 581.64 566.05C582.28 565.06 583.40 563.60 584.04 563.08C584.67 562.57 585.87 562.59 586.43 562.19C586.99 561.80 587.75 560.87 588.23 560.12C588.71 559.37 589.52 557.43 590.02 556.56C590.53 555.69 591.74 553.99 592.00 553.59"/>
</g></g>
<path d="M306.08 595.68C306.59 593.66 307.72 591.22 309.83 589.61C311.93 588.01 315.83 586.85 318.74 586.05C321.65 585.25 325.27 584.56 327.29 584.80C329.31 585.04 330.35 585.84 330.86 587.48C331.36 589.11 331.07 592.23 330.32 594.61C329.58 596.98 328.33 599.92 326.40 601.74C324.47 603.55 321.32 604.86 318.74 605.48C316.15 606.10 312.89 606.10 310.89 605.48C308.90 604.86 307.60 603.37 306.80 601.74C305.99 600.10 305.58 597.70 306.08 595.68Z" fill="#000" filter="url(#tex)"/>
<path d="M306.08 595.68C306.59 593.66 307.72 591.22 309.83 589.61C311.93 588.01 315.83 586.85 318.74 586.05C321.65 585.25 325.27 584.56 327.29 584.80C329.31 585.04 330.35 585.84 330.86 587.48C331.36 589.11 331.07 592.23 330.32 594.61C329.58 596.98 328.33 599.92 326.40 601.74C324.47 603.55 321.32 604.86 318.74 605.48C316.15 606.10 312.89 606.10 310.89 605.48C308.90 604.86 307.60 603.37 306.80 601.74C305.99 600.10 305.58 597.70 306.08 595.68Z" fill="none" stroke="#000" stroke-width="1.9"/>
<linearGradient id="clayg" x1="0" y1="0" x2="1" y2="0"><stop offset="0" stop-color="#e8c586"/><stop offset="0.45" stop-color="#ecce92"/><stop offset="1" stop-color="#f3dca6"/></linearGradient>
<path d="M398.38 593.50C398.55 592.91 401.13 590.82 401.62 590.50C402.12 590.18 406.30 588.30 406.94 588.06C407.58 587.83 411.91 586.67 412.56 586.50C413.22 586.33 417.80 585.07 418.19 585.06C418.57 585.05 419.08 585.93 419.12 586.31C419.17 586.70 418.99 591.02 418.88 591.62C418.76 592.23 417.38 596.26 417.12 596.62C416.87 596.99 414.76 597.58 414.44 597.88C414.12 598.17 411.89 601.29 411.62 601.62C411.36 601.96 410.28 603.46 409.88 603.62C409.47 603.79 405.32 604.48 404.75 604.50C404.18 604.52 400.42 604.16 400.06 603.94C399.71 603.72 398.79 601.30 398.69 600.69C398.59 600.08 398.20 594.09 398.38 593.50Z" fill="url(#clayg)" stroke="#14365c" stroke-width="1.8" stroke-linejoin="round"/>
<path d="M551.88 591.00C551.94 590.56 552.44 588.83 552.81 588.50C553.19 588.17 555.11 587.72 555.62 587.75C556.14 587.78 557.81 588.46 558.00 588.81C558.19 589.17 557.83 590.89 557.50 591.31C557.17 591.73 555.22 592.84 554.69 593.00C554.16 593.16 552.47 593.08 552.19 592.88C551.91 592.67 551.81 591.44 551.88 591.00Z" fill="#f0d08c" stroke="#14365c" stroke-width="1.9" stroke-linejoin="round"/>
<path d="M561.12 586.31C561.31 585.77 563.27 584.97 563.75 584.94C564.23 584.91 565.50 585.49 565.94 586.00C566.38 586.51 568.22 589.59 568.12 590.06C568.03 590.53 565.62 590.66 565.00 590.69C564.38 590.72 562.26 590.81 561.88 590.38C561.49 589.94 560.94 586.86 561.12 586.31Z" fill="#f0d08c" stroke="#14365c" stroke-width="1.9" stroke-linejoin="round"/>
<path d="M550.94 599.25C551.00 598.83 551.78 597.47 552.19 597.25C552.59 597.03 554.47 596.91 555.00 597.06C555.53 597.22 557.23 598.39 557.50 598.81C557.77 599.24 557.94 600.97 557.69 601.31C557.44 601.66 555.61 602.23 555.00 602.25C554.39 602.27 551.97 601.80 551.56 601.50C551.16 601.20 550.88 599.67 550.94 599.25Z" fill="#f0d08c" stroke="#14365c" stroke-width="1.9" stroke-linejoin="round"/>
<path d="M561.25 598.19C561.34 597.67 562.78 596.27 563.25 596.12C563.72 595.98 565.53 596.40 565.94 596.75C566.34 597.10 567.25 599.08 567.31 599.62C567.38 600.17 566.83 601.91 566.56 602.25C566.30 602.59 565.11 603.16 564.69 603.06C564.27 602.97 562.72 601.80 562.38 601.31C562.03 600.83 561.16 598.71 561.25 598.19Z" fill="#f0d08c" stroke="#14365c" stroke-width="1.9" stroke-linejoin="round"/>
<path d="M695.62 555.42C696.04 555.72 697.92 556.71 698.75 557.71C699.58 558.71 700.90 561.67 701.88 562.92C702.85 564.17 705.07 566.28 706.04 567.08C707.01 567.89 707.78 568.82 709.17 568.96C710.56 569.10 714.10 568.58 716.46 568.12C718.82 567.67 723.96 566.35 726.88 565.52C729.79 564.69 735.56 562.85 738.33 561.88C741.11 560.90 745.97 559.09 747.71 558.23C749.44 557.37 750.87 555.79 751.35 555.42Z" fill="#000" filter="url(#tex0)"/>
<path d="M695.62 555.42C696.04 555.72 697.92 556.71 698.75 557.71C699.58 558.71 700.90 561.67 701.88 562.92C702.85 564.17 705.07 566.28 706.04 567.08C707.01 567.89 707.78 568.82 709.17 568.96C710.56 569.10 714.10 568.58 716.46 568.12C718.82 567.67 723.96 566.35 726.88 565.52C729.79 564.69 735.56 562.85 738.33 561.88C741.11 560.90 745.97 559.09 747.71 558.23C749.44 557.37 750.87 555.79 751.35 555.42" fill="none" stroke="#000" stroke-width="1.35" stroke-linecap="round"/>
<path d="M687.81 566.04 L697.71 560.31M687.21 560.33 L697.71 560.31M692.47 569.41 L697.71 560.31" fill="none" stroke="#6a24a4" stroke-width="1.60" stroke-linecap="round"/>
<path d="M711.77 583.23 L711.77 570.73M706.52 579.82 L711.77 570.73M717.02 579.82 L711.77 570.73" fill="none" stroke="#6a24a4" stroke-width="1.60" stroke-linecap="round"/>
<path d="M733.65 579.38 L728.12 567.60M727.23 578.07 L728.12 567.60M736.74 573.61 L728.12 567.60" fill="none" stroke="#6a24a4" stroke-width="1.60" stroke-linecap="round"/>
<path d="M751.88 571.25 L745.42 560.31M745.52 570.81 L745.42 560.31M754.56 565.47 L745.42 560.31" fill="none" stroke="#6a24a4" stroke-width="1.60" stroke-linecap="round"/>
<path d="M711.8 594.7 C718 594.2 726 596 737 594.6" fill="none" stroke="#ed7d31" stroke-width="1.7" stroke-dasharray="5 3.6"/>
<path d="M729.8 591.4 L737.4 594.4 L733.2 601.5" fill="none" stroke="#ed7d31" stroke-width="1.6" stroke-linejoin="miter" stroke-linecap="round"/>
<g font-family="'Liberation Serif', 'Times New Roman', serif" fill="#000" opacity="0.999">
<text x="35.60" y="40.00" font-size="26.00" font-weight="bold" >(a)</text>
<text x="460.00" y="39.90" font-size="26.00" font-weight="bold" >(b)</text>
<text x="460.00" y="297.00" font-size="26.00" font-weight="bold" >(c)</text>
<text x="36.60" y="296.70" font-size="26.00" font-weight="bold" >(d)</text>
<text x="35.60" y="520.00" font-size="26.00" font-weight="bold" >(e)</text>
<text x="290.40" y="531.80" font-size="26.00" font-weight="bold" >(f)</text>
<text x="192.70" y="549.00" font-size="14.67" >Matrix move</text>
<text x="349.90" y="560.90" font-size="14.67" >Pore</text>
<text x="443.00" y="560.90" font-size="14.67" >Unsaturated pore</text>
<text x="602.20" y="562.60" font-size="14.67" >Saturated pore</text>
<text x="755.80" y="562.60" font-size="14.67" >Pore pressure</text>
<text x="348.00" y="598.60" font-size="14.67" >Matrix</text>
<text x="449.80" y="599.60" font-size="14.67" >Clay minerals</text>
<text x="574.80" y="598.80" font-size="14.67" >Clay minerals dissolve</text>
<text x="738.30" y="599.60" font-size="14.67" >Water migration</text>
</g>
</svg>
</body>
</html>
